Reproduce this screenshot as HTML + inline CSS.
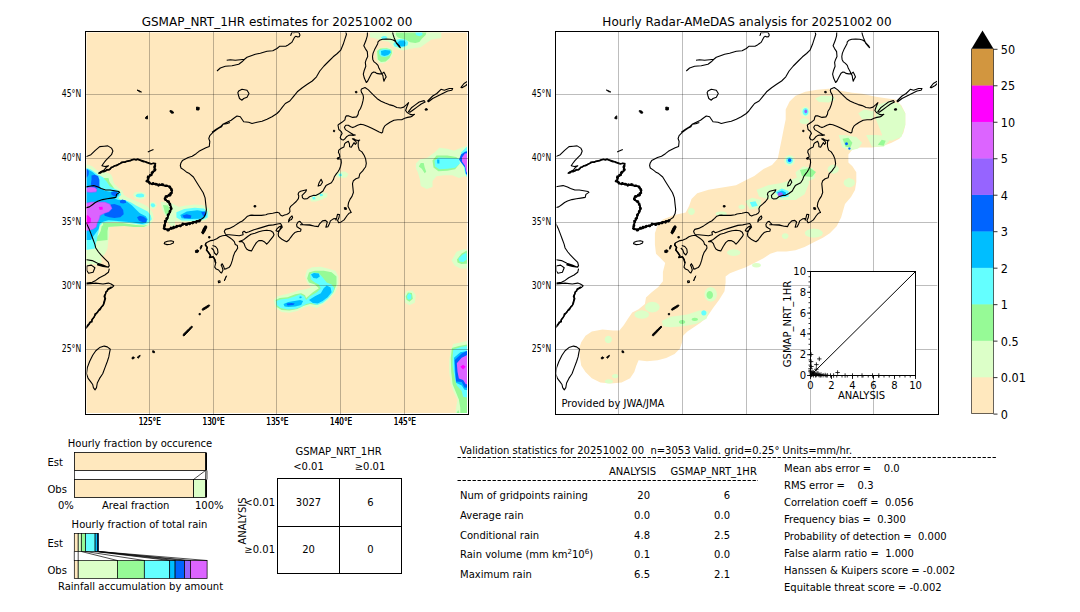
<!DOCTYPE html><html><head><meta charset="utf-8"><title>GSMaP validation</title><style>html,body{margin:0;padding:0;background:#fff;}svg{display:block;}text{font-family:'DejaVu Sans', 'Liberation Sans', sans-serif;}</style></head><body>
<svg width="1080" height="612" viewBox="0 0 1080 612">
<defs><filter id="bl" x="-5%" y="-5%" width="110%" height="110%"><feGaussianBlur stdDeviation="0.7"/></filter><clipPath id="cl"><rect x="86.5" y="32.5" width="380.5" height="380.5"/></clipPath><clipPath id="cr"><rect x="556.5" y="32.5" width="380.5" height="380.5"/></clipPath></defs>
<rect width="1080" height="612" fill="#fff"/>
<rect x="86.5" y="32.5" width="380.5" height="380.5" fill="#FFE8BE"/>
<g clip-path="url(#cl)"><g filter="url(#bl)"><path fill="#DCFFC8" d="M83.0,163.7 L88.9,165.0 L92.2,166.3 L95.5,169.0 L98.1,170.9 L100.7,172.2 L104.6,172.2 L108.5,172.9 L111.1,174.8 L112.5,177.5 L113.1,180.7 L114.4,183.9 L118.3,187.8 L122.3,190.8 L123.7,194.7 L127.2,197.2 L131.1,199.1 L136.0,201.1 L141.9,203.5 L146.8,206.0 L149.7,208.4 L152.6,212.4 L153.6,217.3 L152.6,221.2 L149.7,225.1 L145.8,227.1 L139.9,227.1 L132.1,226.1 L124.2,225.6 L114.4,226.1 L109.0,227.1 L109.5,232.9 L108.5,238.8 L107.5,248.6 L104.6,254.5 L99.7,258.4 L92.8,260.4 L83.0,261.4Z M133.0,194.7 L135.0,192.3 L139.9,191.8 L144.8,192.7 L146.3,195.7 L144.8,198.6 L139.9,199.4 L135.0,198.6Z M149.2,203.5 L151.7,201.8 L155.1,202.4 L157.1,205.5 L155.1,208.6 L151.7,208.9 L149.7,207.0Z M163.4,204.5 L166.4,202.5 L169.3,205.5 L173.2,209.4 L175.0,212.4 L175.0,227.1 L171.3,226.1 L168.3,223.1 L166.4,219.2 L164.9,213.3Z M160.7,201.8 L171.1,203.1 L179.0,207.1 L184.2,205.8 L194.7,204.4 L202.5,205.1 L209.0,208.4 L210.4,214.9 L206.4,220.1 L199.9,221.4 L184.2,222.1 L176.4,221.4 L171.1,218.8 L164.6,214.9 L162.0,208.4Z M370.0,29.7 L441.3,29.7 L441.3,38.1 L431.6,39.4 L425.1,44.0 L420.6,47.2 L415.4,47.9 L408.9,49.1 L403.7,50.4 L398.5,49.8 L393.3,47.2 L391.4,44.0 L388.1,41.4 L383.0,40.7 L378.4,39.4 L373.9,38.1 L370.0,37.5Z M376.5,50.4 L379.7,47.9 L386.2,47.2 L392.0,48.5 L393.3,52.4 L391.4,56.9 L388.1,60.8 L383.0,63.4 L378.4,62.8 L376.5,58.2Z M415.9,163.4 L419.8,159.5 L427.6,157.5 L434.5,152.6 L439.4,147.7 L447.3,148.7 L454.1,150.7 L461.0,147.7 L466.9,145.8 L472.7,144.8 L472.7,177.2 L464.9,176.2 L459.0,178.1 L452.2,175.2 L444.3,175.2 L436.5,176.2 L432.5,181.1 L432.5,187.0 L426.7,188.9 L420.8,186.0 L419.8,179.1 L417.8,172.3 L415.9,168.3Z M273.7,300.1 L277.6,296.2 L285.5,294.2 L293.3,292.3 L299.2,290.3 L306.1,289.3 L311.0,287.4 L307.1,282.5 L305.1,276.6 L307.1,269.7 L312.0,267.3 L320.8,266.8 L328.6,268.7 L335.5,270.7 L338.4,276.6 L338.4,284.4 L335.5,292.3 L330.6,298.1 L323.7,304.0 L316.9,307.9 L309.0,306.0 L303.1,307.9 L297.3,310.9 L289.4,312.8 L281.6,311.9 L275.7,307.9Z M453.3,343.9 L460.3,342.5 L467.2,341.1 L475.6,341.1 L475.6,418.9 L454.7,418.9 L456.1,407.8 L457.5,399.4 L453.3,391.1 L450.6,382.8 L449.2,371.7 L449.2,360.6 L450.6,350.8Z M451.6,260.6 L456.5,251.8 L463.3,249.3 L470.2,249.8 L470.2,268.4 L460.4,268.4 L454.5,265.5Z M404.0,295.9 L406.5,291.0 L412.4,290.5 L415.8,294.9 L414.8,302.7 L409.4,305.2 L405.0,302.7Z M310.0,199.0 L313.0,195.5 L318.0,193.5 L323.0,192.5 L327.5,193.5 L327.0,197.0 L322.0,199.5 L316.0,201.5 L311.0,201.5Z M336.0,174.5 L339.0,171.8 L345.0,171.5 L348.5,174.0 L346.5,177.5 L340.0,178.0 L336.5,177.0Z M84.0,229.0 L108.0,229.0 L109.0,237.0 L105.5,245.0 L102.0,251.0 L100.0,256.0 L102.0,262.0 L98.0,265.0 L92.0,264.0 L84.0,265.0Z"/><path fill="#96FA96" d="M83.0,178.0 L108.5,178.0 L109.5,182.0 L112.5,185.9 L114.4,188.8 L83.0,188.8Z M102.6,223.1 L114.4,223.1 L122.3,223.1 L129.1,224.1 L136.0,225.1 L143.8,225.6 L147.7,225.1 L143.8,227.1 L134.0,226.9 L124.2,226.1 L114.4,226.6 L107.5,227.1 L104.6,229.0Z M83.0,238.8 L94.8,238.8 L98.7,234.9 L100.7,231.0 L101.7,226.1 L105.6,224.1 L108.5,226.1 L107.5,231.0 L107.5,240.0 L83.0,242.7Z M163.0,205.0 L168.0,205.5 L170.0,210.0 L168.0,216.0 L165.0,213.0Z M395.9,29.7 L427.0,29.7 L425.7,34.9 L421.8,38.8 L419.3,42.0 L415.4,43.0 L410.2,42.3 L407.6,40.7 L402.4,38.8 L397.9,37.5 L395.9,34.9Z M377.1,51.1 L380.4,48.5 L386.9,48.2 L391.4,49.8 L392.0,53.0 L389.4,58.2 L385.6,61.5 L381.0,62.1 L377.8,59.5Z M418.8,166.4 L420.8,162.9 L423.7,162.9 L424.7,167.4 L426.2,171.8 L424.7,173.2 L421.8,168.8Z M432.5,160.5 L436.5,155.6 L447.3,155.6 L456.1,157.1 L459.0,159.5 L459.0,164.4 L455.1,169.3 L447.3,170.8 L438.4,171.3 L433.5,167.4Z M275.7,300.1 L279.6,298.1 L287.5,297.2 L295.3,294.2 L301.2,293.2 L305.1,295.2 L306.1,298.1 L312.9,292.3 L318.8,288.3 L314.9,284.4 L309.0,282.5 L307.1,278.5 L309.0,272.6 L314.9,270.7 L323.7,270.7 L331.6,272.2 L336.5,276.6 L336.5,284.4 L333.5,292.3 L328.6,297.2 L322.7,302.1 L316.9,305.0 L310.0,304.0 L303.1,306.0 L297.3,308.9 L289.4,310.4 L281.6,309.9 L276.7,307.0Z M451.9,348.1 L458.9,346.0 L467.2,344.6 L475.6,344.6 L475.6,418.9 L460.3,418.9 L460.3,407.8 L458.9,399.4 L455.4,391.1 L452.6,384.2 L451.2,371.7 L450.8,357.8Z M456.4,413.3 L458.2,409.9 L459.6,413.3Z M457.0,259.6 L461.4,253.7 L466.3,250.8 L470.2,251.3 L470.2,263.5 L461.4,264.0 L457.5,262.5Z M405.7,296.4 L407.9,292.5 L411.9,292.9 L412.8,298.8 L409.4,301.8 L406.5,299.8Z"/><path fill="#64FFFF" d="M83.0,167.0 L87.6,168.3 L90.9,169.6 L94.8,172.2 L98.1,174.8 L100.7,176.1 L103.3,177.5 L104.6,179.4 L106.6,181.4 L109.5,185.9 L114.4,188.8 L119.3,190.8 L121.3,194.7 L118.3,198.1 L120.3,199.6 L126.2,200.6 L131.1,202.5 L136.0,205.5 L141.9,208.4 L147.7,211.4 L150.7,215.3 L151.7,219.2 L148.7,223.1 L143.8,225.1 L136.0,224.1 L129.1,223.1 L122.3,222.2 L114.4,221.7 L106.6,222.2 L102.6,223.1 L99.7,226.1 L98.7,231.0 L97.7,234.9 L96.8,240.0 L94.8,248.6 L83.0,250.6Z M135.5,195.2 L137.5,193.7 L141.9,193.5 L144.3,194.7 L143.8,196.9 L139.9,197.5 L136.5,196.9Z M150.5,205.0 L151.7,203.3 L154.1,203.5 L155.4,205.5 L154.1,207.3 L152.0,207.3Z M176.4,212.3 L184.2,209.0 L194.7,207.7 L203.8,208.4 L207.7,211.6 L207.7,217.5 L202.5,220.1 L192.1,220.8 L181.6,220.4 L176.4,217.5Z M393.3,44.0 L395.9,40.1 L400.5,38.8 L405.6,39.4 L408.2,42.0 L407.6,45.3 L403.7,47.2 L398.5,47.5 L394.6,46.6Z M414.7,29.7 L421.8,29.7 L422.5,34.9 L419.3,36.2 L416.0,34.9Z M381.0,37.2 L383.6,35.9 L386.2,36.2 L387.5,38.1 L384.9,39.4 L381.7,38.8Z M379.1,50.4 L383.0,49.1 L389.4,49.5 L391.4,51.7 L389.4,55.6 L385.6,56.9 L381.0,56.6 L379.1,53.7Z M434.5,160.5 L438.4,157.5 L449.2,158.0 L459.0,158.5 L460.0,163.4 L455.1,167.8 L447.3,168.8 L439.4,169.3 L435.0,166.4Z M461.0,152.6 L466.9,146.8 L472.7,145.8 L472.7,178.1 L466.9,177.2 L464.9,172.3Z M276.2,301.1 L280.6,299.6 L288.4,298.6 L295.3,296.2 L300.2,294.2 L304.1,296.2 L306.1,300.1 L310.0,296.2 L316.9,292.3 L320.8,288.3 L318.8,284.4 L314.9,282.5 L311.0,279.5 L310.0,274.6 L312.9,272.6 L318.8,273.1 L322.7,277.5 L326.7,282.5 L331.6,284.4 L334.5,288.3 L332.5,293.2 L328.6,298.1 L322.7,303.0 L316.9,305.0 L311.0,303.0 L306.1,304.0 L301.2,307.0 L295.3,308.9 L287.5,309.4 L280.6,307.9 L276.7,305.0Z M453.3,349.4 L461.7,346.7 L475.6,345.3 L475.6,399.4 L463.1,396.7 L461.7,391.1 L456.8,385.6 L454.7,378.6 L452.6,366.1 L452.6,356.4Z M458.4,258.6 L462.4,254.7 L466.3,252.7 L466.8,259.6 L463.3,262.1 L459.4,261.6Z M407.0,295.9 L409.2,292.9 L411.4,294.9 L411.2,298.8 L408.9,299.8 L407.5,298.8Z M312.3,197.0 L315.0,196.8 L315.5,199.3 L312.8,199.6Z M319.8,194.0 L322.5,193.8 L322.8,196.0 L320.0,196.3Z M338.6,174.0 L341.5,173.6 L342.0,176.0 L339.0,176.3Z"/><path fill="#00BEFF" d="M83.0,167.7 L87.9,169.2 L92.8,172.2 L96.8,176.1 L97.7,183.9 L100.7,187.8 L104.6,190.8 L110.5,191.8 L114.4,190.8 L118.3,191.3 L119.3,194.7 L116.4,197.6 L114.4,198.6 L118.3,200.1 L124.2,200.1 L128.1,202.5 L132.1,205.5 L136.0,209.4 L139.9,213.3 L145.8,216.3 L147.7,219.2 L145.8,223.1 L141.9,224.1 L136.0,223.1 L132.1,222.2 L126.2,221.7 L120.3,221.2 L114.4,220.7 L108.5,220.2 L104.6,221.2 L101.7,222.2 L99.7,224.1 L98.7,229.0 L95.8,232.9 L92.8,236.9 L90.9,240.0 L83.0,240.0Z M180.3,214.9 L186.8,211.6 L197.3,210.3 L205.1,211.6 L206.4,216.2 L201.2,218.8 L189.4,219.1 L181.6,218.2Z M397.2,42.7 L399.8,40.4 L404.3,40.4 L405.6,42.7 L405.0,45.9 L401.8,46.6 L397.9,45.3Z M381.0,51.1 L384.9,50.1 L390.1,50.4 L390.7,52.4 L388.1,55.0 L384.3,56.0 L381.3,55.0Z M437.0,159.5 L439.4,159.5 L439.4,163.4 L437.3,163.6Z M311.0,274.6 L313.9,273.1 L318.8,273.6 L319.8,276.6 L316.9,278.5 L313.4,278.0Z M309.0,300.1 L314.9,296.2 L320.8,293.2 L323.7,288.3 L326.7,285.4 L330.6,287.4 L331.6,292.3 L327.6,297.2 L322.7,301.1 L317.8,303.5 L312.9,303.0Z M283.5,304.0 L288.4,302.1 L294.3,301.1 L300.2,300.1 L303.1,301.1 L301.2,305.0 L295.3,306.5 L288.4,307.0 L284.5,306.5Z M299.2,296.7 L301.2,296.2 L301.7,298.1 L299.7,298.3Z M454.0,357.8 L460.3,352.2 L475.6,349.4 L475.6,391.1 L464.4,389.7 L461.7,385.6 L456.1,382.8 L454.7,371.7Z"/><path fill="#0064FF" d="M84.0,168.8 L87.6,169.6 L88.9,171.6 L88.6,174.8 L87.0,177.5 L84.0,177.5Z M91.5,175.5 L94.8,174.8 L98.1,176.1 L99.4,180.1 L99.4,186.6 L96.8,188.5 L92.0,188.5 L90.9,184.0 L91.5,179.4Z M106.6,205.0 L114.4,204.0 L120.3,206.0 L123.2,209.9 L123.7,214.3 L120.3,217.3 L114.4,218.0 L109.5,217.3 L104.6,215.8 L103.6,211.4Z M119.8,201.1 L122.3,199.6 L125.7,200.4 L126.2,202.7 L123.2,203.5 L120.3,203.0Z M137.0,217.3 L139.9,215.8 L143.8,216.8 L146.8,219.2 L146.3,222.2 L142.8,222.2 L138.9,220.7Z M111.0,192.3 L114.4,191.3 L117.4,192.3 L117.4,195.7 L114.4,196.2 L111.5,194.7Z M182.3,215.6 L186.8,214.2 L191.4,215.6 L190.8,218.2 L184.2,218.2Z M201.2,212.3 L205.1,211.6 L206.4,214.9 L203.2,216.2Z M459.0,159.5 L461.0,154.6 L464.9,151.7 L472.7,149.7 L472.7,176.2 L465.9,174.2 L464.9,167.4 L461.0,162.5Z M286.5,303.5 L291.4,303.0 L294.8,303.5 L293.3,305.0 L287.5,305.5Z M454.7,359.9 L461.7,353.6 L467.2,350.8 L475.6,350.8 L475.6,388.3 L464.4,387.6 L461.7,382.1 L456.1,381.4 L455.4,371.7Z"/><path fill="#9664FF" d="M86.0,187.8 L90.9,186.4 L95.3,187.4 L97.3,189.8 L96.3,192.3 L90.9,192.7 L86.5,192.3Z M83.0,203.5 L90.9,201.8 L97.7,201.8 L105.1,201.8 L110.3,204.0 L112.3,208.4 L109.0,211.9 L104.1,213.8 L100.5,215.8 L99.5,219.2 L97.5,223.1 L96.6,227.1 L93.3,229.5 L88.9,230.5 L83.0,231.5Z"/><path fill="#DC64FF" d="M87.0,188.3 L90.9,187.4 L94.8,188.0 L96.6,189.8 L95.6,191.6 L90.9,192.0 L87.2,191.6Z M83.0,204.5 L90.9,202.5 L97.7,202.5 L104.6,202.5 L109.5,204.5 L111.5,208.4 L108.5,211.4 L103.6,213.3 L99.7,215.3 L98.7,219.2 L96.8,223.1 L95.8,227.1 L92.8,229.0 L88.9,230.0 L83.0,231.0Z M462.0,157.5 L464.9,153.6 L472.7,152.6 L472.7,174.2 L466.4,172.3 L464.9,165.4 L462.0,161.5Z M456.8,363.3 L461.7,357.8 L467.2,355.0 L475.6,355.0 L475.6,384.2 L465.8,384.2 L463.1,380.0 L458.9,378.6 L457.5,371.7Z"/><path fill="#FF00FF" d="M83.0,215.8 L87.9,215.3 L90.9,218.2 L90.9,222.2 L87.9,224.1 L83.0,224.6Z M98.7,207.0 L102.5,206.7 L102.8,209.4 L99.7,209.9Z M460.3,366.8 L463.1,364.7 L465.8,366.8 L463.1,369.6Z"/></g></g>
<g stroke="#000" stroke-opacity="0.26" stroke-width="1"><line x1="149.5" y1="32" x2="149.5" y2="414"/><line x1="213.5" y1="32" x2="213.5" y2="414"/><line x1="276.5" y1="32" x2="276.5" y2="414"/><line x1="340.5" y1="32" x2="340.5" y2="414"/><line x1="404.5" y1="32" x2="404.5" y2="414"/><line x1="86" y1="349.5" x2="468" y2="349.5"/><line x1="86" y1="285.5" x2="468" y2="285.5"/><line x1="86" y1="222.5" x2="468" y2="222.5"/><line x1="86" y1="158.5" x2="468" y2="158.5"/><line x1="86" y1="94.5" x2="468" y2="94.5"/></g>
<g clip-path="url(#cl)" fill="none" stroke="#000" stroke-width="1.1" stroke-linejoin="round"><path d="M290.2,35.5 L291.0,35.1 L291.4,33.4 L291.8,32.2 L293.1,32.8 L295.5,32.4 L298.0,32.2 L299.2,33.0 L300.0,35.1 L299.2,36.7 L297.6,36.9 L295.9,36.3 L294.7,37.1 L293.5,39.2 L292.7,40.8 L291.8,42.4 L289.8,43.7 L288.2,44.9 L286.1,46.1 L283.3,46.3 L279.5,46.3 L277.0,48.5 L272.8,50.7 L267.0,51.3 L260.3,53.2 L255.3,54.3 L251.2,55.7 L247.0,57.3 L244.5,59.3 L242.0,61.8 L238.7,64.3 L232.0,65.7 L225.3,66.3 L220.3,68.0 L217.0,71.0 M244.5,59.3 L240.3,59.8 L235.3,60.3 L230.3,59.8 L226.7,60.2 M238.7,91.0 L242.0,89.3 L247.0,90.2 L249.0,93.5 L247.0,97.3 L243.7,98.5 L242.0,100.2 L239.5,98.5 L238.7,96.0 L237.8,92.7Z M212.0,132.3 L216.2,129.3 L220.3,126.8 L222.8,124.3 L227.0,122.3 L231.2,120.2 L234.5,117.7 L237.0,116.0 L240.3,116.8 L242.0,119.3 L243.7,121.8 L248.7,122.3 L252.0,123.5 L257.0,122.3 L262.0,121.3 L267.0,119.3 L272.0,116.8 L277.0,113.5 L279.5,111.0 L282.0,107.7 L285.3,103.5 L289.8,101.0 L293.2,96.8 L297.3,91.8 L302.3,87.7 L307.3,84.3 L312.3,81.0 L316.5,76.8 L319.8,71.0 L324.0,66.0 L329.0,61.0 L333.2,56.8 L337.3,53.5 L340.7,50.2 L343.2,44.3 L344.8,39.3 L346.5,34.3 L345.7,31.8 M367.5,31.0 L367.3,35.9 L365.8,40.8 L363.8,45.7 L365.3,48.6 L367.3,51.6 L367.7,56.5 L366.3,59.4 L365.3,62.4 L365.8,66.3 L364.3,70.2 L363.3,74.1 L364.3,78.1 L366.3,82.5 L367.7,81.0 L369.7,77.1 L371.7,73.2 L373.6,72.0 L375.1,72.2 L376.6,73.4 L379.5,73.9 L382.0,73.6 L383.9,72.2 L384.9,74.1 L386.2,76.9 L384.9,79.0 L383.9,81.2 L383.4,79.0 L382.9,75.6 L381.5,73.2 L380.7,71.2 L379.0,68.3 L378.0,65.3 L376.1,63.4 L374.1,61.9 L372.8,59.4 L372.5,56.5 L373.1,53.1 L374.6,49.6 L376.1,46.7 L377.7,43.7 L378.0,41.8 L379.5,40.3 L382.5,39.3 L386.4,39.0 L390.3,39.3 L393.2,40.0 L395.2,41.3 L397.2,43.5 L399.6,46.2 L400.3,47.7 L399.0,46.5 L396.5,43.5 L395.5,41.0 L394.2,37.9 L393.2,34.9 L392.3,31.0 M361.5,88.9 L365.0,87.5 L368.4,89.9 L371.3,92.8 L374.3,95.8 L377.2,98.7 L381.1,101.2 L385.1,103.1 L389.0,104.6 L392.9,105.6 L396.8,107.5 L400.7,108.0 L403.7,107.1 L406.6,104.6 L408.6,102.6 L407.6,105.1 L406.6,107.5 L405.6,110.5 L407.1,112.5 L408.6,113.4 L410.1,114.4 L412.5,114.9 L414.5,114.4 L412.5,115.9 L410.5,116.9 L407.6,117.4 L404.7,118.3 L401.7,119.8 L397.8,119.8 L393.9,120.3 L390.0,122.3 L387.0,124.2 L384.6,126.2 L383.1,129.1 L382.6,132.1 L381.6,133.0 L379.2,132.1 L375.3,130.1 L371.3,128.1 L367.4,126.2 L363.5,124.7 L360.5,124.2 L357.6,125.2 L354.7,126.7 L352.7,127.6 L350.7,126.7 L348.3,125.2 L345.8,125.2 L344.4,127.2 L345.4,129.6 L347.8,131.1 L350.7,133.0 L353.2,134.5 L355.3,135.0 L353.1,135.4 L350.9,135.0 L348.7,135.4 L346.5,136.8 L345.0,138.7 L343.2,140.1 L341.3,139.4 L340.2,137.6 L341.0,135.4 L342.1,133.5 L341.3,131.7 L338.8,129.5 L338.0,125.2 L339.0,124.2 L341.9,122.3 L344.9,119.8 L345.4,117.4 L346.3,115.9 L348.8,115.9 L352.7,117.4 L356.6,116.9 L358.1,114.4 L358.6,111.5 L360.5,108.5 L362.0,104.6 L363.0,100.7 L363.5,97.7 L363.0,94.8 L361.5,92.4 L361.0,90.4 L361.5,88.9Z M408.5,111.7 L411.4,107.8 L415.3,104.9 L419.2,102.0 L424.1,100.6 L425.1,102.0 L421.2,104.0 L417.3,106.9 L413.4,109.8 L409.9,112.3Z M427.7,101.0 L432.7,96.0 L436.8,93.5 L441.0,89.3 L444.3,90.2 L449.3,88.5 L452.7,88.5 L451.8,90.2 L447.7,91.0 L442.7,93.5 L437.7,96.0 L432.7,98.5 L428.5,101.8Z M461.0,87.4 L464.0,83.5 L467.9,81.2 L468.8,82.6 L465.9,85.5 L462.0,87.8Z M348.3,141.2 L345.7,142.7 L344.6,143.8 L343.9,147.0 L341.3,148.2 L338.8,150.1 L338.4,152.3 L339.5,154.5 L339.9,157.0 L337.3,158.5 L341.0,159.3 L341.3,162.6 L340.6,166.2 L339.5,169.2 L337.8,172.0 L336.3,173.9 L334.3,176.8 L333.3,179.8 L331.4,182.7 L328.4,184.2 L326.0,185.6 L324.5,188.1 L323.0,191.0 L319.6,193.5 L315.7,195.5 L313.9,195.3 L309.5,196.8 L307.3,198.6 L304.3,199.0 L302.5,197.9 L302.1,195.3 L303.6,193.8 L305.8,191.6 L306.5,189.8 L303.6,190.5 L300.6,191.3 L298.8,192.4 L298.1,194.2 L298.8,196.0 L298.4,198.6 L296.2,201.5 L293.3,204.1 L290.7,206.3 L289.6,208.5 L290.0,211.5 L288.9,213.3 L286.7,214.4 L284.5,215.1 L282.3,215.9 L280.4,215.1 L279.3,212.9 L277.1,212.2 L272.7,213.3 L267.6,214.0 L265.9,214.7 L261.5,215.4 L257.1,215.4 L254.1,215.4 L251.9,215.1 L249.7,215.4 L247.5,216.2 L245.3,218.4 L242.4,221.0 L240.2,222.0 L234.3,225.9 L229.4,228.4 L225.5,229.4 L224.3,231.3 L225.0,233.3 L226.0,234.7 L229.4,234.7 L234.3,235.2 L239.2,235.7 L243.1,234.7 L242.6,232.3 L244.1,231.3 L246.1,232.8 L249.0,231.8 L253.9,229.8 L258.8,228.4 L263.7,226.9 L268.6,225.4 L273.5,224.9 L277.5,224.0 L280.5,223.5 L281.8,225.5 L280.5,228.0 L279.3,230.8 L278.6,232.3 L278.2,234.1 L278.6,236.3 L280.1,237.8 L282.3,239.6 L284.5,240.7 L286.7,241.8 L288.9,240.0 L290.4,237.8 L292.6,234.9 L294.8,232.6 L297.7,231.5 L300.6,231.2 L301.0,229.3 L299.2,228.2 L297.0,226.8 L296.6,224.6 L298.1,222.0 L299.9,221.3 L301.4,223.1 L302.9,224.6 L305.8,224.9 L309.5,225.3 L313.9,226.0 L316.8,226.4 L318.3,226.6 L319.6,223.8 L322.5,220.9 L325.5,220.4 L327.3,222.0 L326.5,224.8 L325.8,227.3 L327.9,226.8 L329.4,223.8 L330.4,220.9 L333.3,218.9 L335.5,218.5 L336.0,220.2 L336.6,218.0 L337.5,214.3 L339.5,214.5 L339.0,217.5 L337.6,220.5 L338.7,222.8 L341.2,221.9 L344.1,219.9 L346.1,217.0 L347.1,215.5 L349.0,213.3 L351.2,212.6 L349.5,209.2 L348.0,206.2 L348.5,202.8 L350.0,199.4 L352.0,196.4 L353.4,192.5 L352.9,187.6 L352.5,183.7 L353.4,180.7 L355.9,178.8 L358.8,177.8 L359.8,173.9 L362.7,170.9 L364.7,168.0 L365.6,167.0 L366.3,163.3 L365.6,158.9 L364.1,155.2 L361.9,151.9 L359.3,150.1 L358.2,146.4 L358.2,141.6 L359.7,140.1 L358.2,140.5 L356.0,140.1 L353.8,138.7 L352.4,138.9 L353.8,139.8 L356.0,141.6 L356.4,143.1 L355.3,144.3 L354.0,142.7 L352.7,144.9 L351.3,147.3 L349.6,146.8 L349.4,143.8 L348.3,141.2Z M321.1,179.3 L322.5,182.2 L320.6,185.2 L318.1,186.1 L319.1,182.7 L321.1,179.3Z M292.0,215.9 L292.6,217.4 L291.5,219.6 L289.6,220.3 L288.5,221.8 L288.9,219.6 L290.4,217.4 L292.0,215.9Z M281.5,225.7 L282.3,227.1 L280.1,229.7 L277.9,231.5 L276.0,230.8 L277.1,228.6 L279.3,226.8 L281.5,225.7Z M239.2,241.6 L243.1,240.1 L246.1,237.7 L248.0,236.2 L251.0,234.3 L254.9,233.3 L258.8,231.8 L262.7,230.8 L266.7,230.3 L270.6,230.8 L273.0,232.3 L274.0,234.7 L273.0,236.7 L270.6,239.6 L268.6,242.1 L266.7,244.1 L264.7,242.1 L261.8,240.6 L258.8,240.6 L256.4,242.6 L253.9,246.5 L251.5,250.9 L249.0,250.4 L246.6,249.0 L245.1,246.5 L244.1,243.6 L242.2,241.6 L239.2,241.6Z M226.0,235.2 L222.5,235.7 L219.6,236.7 L216.7,238.7 L213.7,240.1 L210.8,240.6 L207.8,242.1 L205.9,243.1 L205.4,245.0 L207.3,247.5 L206.5,250.0 L208.5,252.5 L210.5,255.5 L209.5,257.5 L212.0,257.0 L213.2,256.8 L214.7,259.3 L215.7,263.2 L214.7,267.1 L216.2,269.1 L218.6,270.0 L220.6,272.5 L221.6,273.0 L223.0,270.0 L222.1,267.1 L221.1,265.1 L222.1,263.7 L223.5,266.1 L224.5,269.1 L226.5,268.6 L228.9,267.6 L230.4,265.6 L231.4,263.2 L232.4,260.2 L233.3,256.3 L234.8,252.4 L236.3,250.4 L237.7,248.0 L237.3,245.5 L235.3,244.5 L234.3,241.6 L232.4,239.6 L229.9,237.7 L227.5,236.2 L226.0,235.2Z M212.5,245.5 L215.5,246.5 L217.5,249.0 L218.0,252.5 L216.5,255.0 L214.5,253.0 L213.5,250.0 L211.5,248.0 M230.0,122.4 L226.5,123.8 L223.0,124.3 L221.6,126.8 L218.6,128.2 L215.7,130.2 L212.7,132.6 L209.8,135.6 L208.8,138.5 L209.8,141.5 L209.3,146.4 L205.9,147.8 L202.9,149.3 L199.0,151.3 L196.1,153.7 L192.2,156.2 L188.2,157.6 L185.3,159.1 L182.4,160.6 L180.9,163.0 L180.3,165.5 L181.0,168.0 L183.8,169.9 L186.3,171.9 L189.4,173.6 L193.4,177.0 L196.6,182.2 L199.9,187.5 L203.2,192.7 L205.1,197.9 L205.8,204.4 L206.4,209.7 L205.8,213.6 L203.8,217.5 L199.9,220.1 L196.0,221.4 L190.8,222.7 L184.2,224.1 L179.0,226.0 L173.8,228.0 L168.5,229.3 L164.6,229.3 L164.0,226.7 L165.3,222.7 L167.2,218.8 L168.5,214.9 L170.5,211.0 L171.1,207.1 L169.2,203.1 L166.6,200.5 L164.6,199.2 L165.9,196.6 L170.5,195.3 L171.8,191.4 L170.5,187.5 L167.9,186.1 L163.3,185.5 L158.1,184.8 L154.2,184.2 L150.2,183.5 L147.6,181.6 L148.9,177.0 L151.5,174.4 L154.2,171.1 L154.8,166.5 L155.6,163.4 L151.2,163.5 L146.8,162.1 L142.4,160.6 L137.9,159.1 L132.1,159.9 L126.2,161.3 L120.3,163.5 L114.4,165.7 L110.0,168.7 L105.6,170.9 L101.9,171.6 L99.0,173.1 L101.2,171.6 L104.1,170.1 L106.3,167.2 L108.5,165.7 L104.9,166.5 L101.9,165.7 L103.4,163.5 L105.6,160.6 L108.5,157.6 L111.5,154.7 L112.9,151.0 L111.5,148.1 L107.8,145.9 L104.1,146.2 L99.7,146.6 L95.3,150.3 L90.9,154.7 L85.7,156.9 L84.0,157.5 M147.8,152.0 L150.5,150.8 L153.5,149.5 M84.0,187.1 L85.0,187.1 L89.4,186.3 L93.8,185.6 L98.2,187.1 L101.2,188.5 L105.6,190.0 L110.0,190.0 L114.4,190.7 L118.8,191.5 L119.6,192.4 L116.6,194.4 L115.9,197.4 L111.5,198.1 L107.1,198.8 L102.6,199.6 L98.2,201.0 L95.3,202.5 L92.4,204.7 L89.4,206.9 L86.5,207.6 L85.0,208.4 L84.0,209.0 M84.0,222.0 L86.3,223.1 L88.9,228.4 L90.9,233.6 L92.8,238.8 L94.8,244.1 L95.8,248.0 L98.5,252.0 L101.2,255.2 L104.8,258.8 L108.4,262.4 L109.3,266.0 L107.5,266.9 L103.0,265.1 L97.6,263.3 L92.2,260.6 L86.8,259.7 L84.0,259.7 M97.6,264.3 L103.0,265.8 L108.4,267.3 L103.0,266.5 L97.6,264.9Z M86.8,266.0 L91.3,265.1 L94.9,267.8 L93.1,272.3 L88.6,273.2 L86.8,270.5Z M109.3,268.7 L108.4,272.3 L104.8,275.0 L99.4,277.7 L95.8,280.4 L92.2,282.2 L86.8,283.1 L84.0,283.1 M84.0,284.0 L86.8,284.0 L95.8,283.1 L103.0,284.0 L108.4,283.1 L111.1,284.0 L113.8,285.8 L112.0,287.6 L108.4,289.4 L105.7,292.1 L104.8,298.3 L103.0,305.5 L99.4,309.1 L95.8,314.5 L92.2,319.9 L88.6,325.3 L85.0,328.9 L84.0,330.0 M104.2,346.1 L107.3,346.9 L110.3,349.2 L109.6,352.3 L108.8,356.9 L107.3,361.5 L105.0,367.6 L102.7,373.8 L99.6,378.4 L97.3,383.0 L96.5,387.6 L95.0,389.9 L93.4,387.6 L92.7,384.5 L90.4,381.4 L88.1,378.4 L86.5,373.8 L87.3,367.6 L89.6,361.5 L92.7,355.3 L95.8,350.7 L99.6,347.6 L104.2,346.1Z M218.2,281.0 L219.8,280.7 L220.2,282.2 L218.6,282.8Z M300.0,224.8 L305.0,224.8 L309.8,224.8 L314.7,226.3 L316.8,226.4 M164.2,243.8 L164.8,242.3 L167.5,241.3 L171.0,240.8 L173.6,241.5 L173.3,243.0 L170.5,244.2 L167.0,244.6Z"/><path stroke-width="1.5" d="M199.9,220.1 L196.0,221.4 L190.8,222.7 L184.2,224.1 L179.0,226.0 L173.8,228.0 L168.5,229.3 L164.6,229.3 L164.0,226.7 L165.3,222.7 L167.2,218.8 L168.5,214.9 L170.5,211.0 L171.1,207.1 L169.2,203.1 L166.6,200.5 L164.6,199.2 L165.9,196.6 L170.5,195.3 L171.8,191.4 L170.5,187.5 L167.9,186.1 L163.3,185.5 L158.1,184.8 L154.2,184.2 L150.2,183.5 L147.6,181.6 L148.9,177.0 L151.5,174.4 L154.2,171.1 L154.8,166.5 L155.6,163.4 M111.7,287.0 L109.9,288.0 L107.9,288.9 L107.3,291.0 L105.9,292.1 L105.7,293.7 L104.6,295.1 L104.2,296.6 L105.4,298.5 L104.9,300.2 L104.4,302.0 L103.9,303.8 L103.0,305.5 L101.7,306.6 L100.9,308.2 L100.1,309.6 L98.6,310.5 L97.8,311.9 L96.6,313.1 L95.1,314.0 L94.6,315.7 L94.0,317.2 L92.9,318.4 L91.9,319.7 L92.0,321.7 L89.8,322.2 L89.1,323.7 L88.1,324.8 L87.0,326.1 L86.3,327.8 L85.1,329.0 L84.0,330.0 M205.5,225.8 L206.6,227.0 L205.0,230.5 L203.0,233.6 L202.0,232.5 L203.5,229.0 L205.5,225.8 M155.6,164.0 L153.4,163.3 L151.0,164.1 L149.5,163.6 L148.1,163.0 L146.6,162.5 L145.3,161.8 L143.7,161.7 L142.2,161.3 L140.7,160.6 L139.2,160.1 L137.9,159.3 L136.1,160.0 L134.0,159.1 L132.1,159.7 L130.7,160.7 L129.2,160.9 L127.7,161.2 L126.3,161.5 L124.9,162.3 L123.1,161.9 L121.5,162.3 L120.3,163.5 L118.8,164.1 L117.6,165.1 L116.1,165.7 L114.5,165.9 L113.1,167.0 L111.2,167.3 L110.2,169.1 L108.8,170.0 L106.8,169.6 L105.6,170.9 L103.8,171.7 L101.9,171.5 L100.8,172.9 L99.0,173.1 L101.2,171.6 M205.9,243.1 L205.4,245.0 L207.3,247.5 L206.5,250.0 L208.5,252.5 L210.5,255.5 L209.5,257.5 L212.0,257.0 L213.2,256.8 L214.7,259.3 L215.7,263.2"/><path stroke-width="2.6" stroke-dasharray="1.2 2.8" stroke-linecap="round" d="M200.0,220.5 L198.8,221.3 L197.2,220.7 L196.2,222.3 L194.7,221.6 L193.5,222.3 L192.3,223.3 L190.8,222.7 L189.7,224.0 L188.2,223.4 L187.0,224.5 L185.7,224.7 L184.3,224.3 L182.7,223.9 L181.9,225.8 L180.5,226.1 L178.9,225.7 L177.3,225.6 L176.3,226.8 L175.2,227.7 L173.6,227.0 L172.7,229.3 L171.0,227.9 L169.9,229.4 L168.5,230.1 L167.2,230.1 L165.9,229.7 L165.3,229.1 L163.6,228.2 L164.2,226.8 L164.7,225.5 L164.6,223.9 L165.4,222.7 L165.1,221.0 L165.7,219.7 L166.6,218.6 L168.0,217.6 L167.9,216.1 L168.1,214.7 L169.3,213.7 L169.7,212.3 L170.1,210.9 L171.3,209.8 L171.3,208.5 L170.6,207.3 L170.6,205.7 L169.9,204.4 L169.8,202.5 L168.3,201.4 L166.3,200.9 L165.5,199.7 L164.5,197.5 L165.9,196.4 L167.6,196.7 L168.8,195.0 L170.5,195.3 L170.0,193.7 L171.7,192.8 L172.4,191.2 L171.5,190.0 L171.7,188.5 L170.3,187.9 L169.4,186.4 L167.9,185.9 L166.4,185.7 L164.8,185.8 L163.4,184.8 L162.1,184.4 L160.7,185.2 L159.4,184.6 L158.0,185.8 L156.9,184.2 L155.5,184.1 L154.4,183.1 L153.0,183.3 L151.5,184.2 L150.1,183.7 L149.1,182.3 L146.6,181.3 L148.0,180.0 L147.8,178.3 L148.3,176.4 L149.5,175.0 L152.0,174.8 L151.8,172.8 L152.9,171.8 L154.0,171.1 L155.2,169.7 L153.7,167.9 L154.7,166.5 L155.3,165.0 L155.6,163.4"/><path fill="#000" stroke-width="0.9" d="M147.5,115.8 L145.8,117.0 L145.5,118.5 L147.5,119.0Z M195.4,250.5 L197.5,249.8 L198.9,250.8 L197.8,252.6 L195.5,252.5Z M425.0,109.0 L427.0,108.6 L427.5,110.0 L425.3,110.2Z M344.3,207.5 L346.3,207.8 L346.4,209.5 L344.5,209.3Z M170.0,110.5 L172.5,111.0 L173.7,113.0 L171.5,113.3 L170.0,111.5Z M254.0,205.6 L255.8,205.6 L255.8,207.0 L254.0,207.0Z M137.2,357.3 L138.5,356.2 L140.2,355.3 L139.5,357.0 L138.2,358.2Z M205.5,225.8 L206.6,227.0 L205.0,230.5 L203.0,233.6 L202.0,232.5 L203.5,229.0 L205.5,225.8Z M199.0,313.5 L200.3,313.4 L200.3,314.8 L199.0,314.8Z M355.3,91.5 L356.8,91.3 L357.0,92.8 L355.5,92.8Z M208.6,236.6 L210.0,236.6 L210.0,238.0 L208.6,238.0Z M337.3,158.0 L338.5,157.5 L338.8,159.0 L337.5,159.2Z M196.5,107.0 L199.3,107.5 L199.0,110.0 L196.5,110.0 L196.5,107.0Z M202.0,309.8 L203.0,310.3 L206.0,308.6 L209.0,306.6 L209.8,305.3 L208.6,305.0 L205.5,306.8 L202.6,308.6Z M226.5,275.8 L225.5,278.5 L224.3,281.0 L225.2,278.3 L226.5,275.8Z M183.0,335.5 L184.0,336.0 L186.8,333.2 L189.8,330.0 L192.5,327.0 L191.8,326.0 L189.0,328.5 L186.0,331.5 L183.5,334.0Z M333.5,130.2 L334.8,130.4 L334.5,131.8 L333.4,131.6Z M132.0,357.5 L133.5,356.8 L134.5,357.8 L133.3,359.0 L132.0,358.8Z M201.5,245.0 L202.2,245.8 L201.3,248.0 L200.5,249.3 L200.2,247.5Z M137.0,90.0 L139.0,90.6 L141.5,92.0 L139.5,91.8 L137.0,90.0Z M152.6,350.8 L154.2,351.0 L154.6,352.7 L152.8,352.6Z"/></g>
<rect x="85.5" y="31.5" width="383" height="383" fill="none" stroke="#000" stroke-width="1"/>
<g font-size="9.7" fill="#000"><text x="81.2" y="352.3" text-anchor="end" textLength="19.4" lengthAdjust="spacingAndGlyphs">25°N</text><text x="81.2" y="288.6" text-anchor="end" textLength="19.4" lengthAdjust="spacingAndGlyphs">30°N</text><text x="81.2" y="224.8" text-anchor="end" textLength="19.4" lengthAdjust="spacingAndGlyphs">35°N</text><text x="81.2" y="161.1" text-anchor="end" textLength="19.4" lengthAdjust="spacingAndGlyphs">40°N</text><text x="81.2" y="97.3" text-anchor="end" textLength="19.4" lengthAdjust="spacingAndGlyphs">45°N</text><text x="149.8" y="425" text-anchor="middle" textLength="22.1" lengthAdjust="spacingAndGlyphs">125°E</text><text x="213.6" y="425" text-anchor="middle" textLength="22.1" lengthAdjust="spacingAndGlyphs">130°E</text><text x="277.4" y="425" text-anchor="middle" textLength="22.1" lengthAdjust="spacingAndGlyphs">135°E</text><text x="341.1" y="425" text-anchor="middle" textLength="22.1" lengthAdjust="spacingAndGlyphs">140°E</text><text x="404.9" y="425" text-anchor="middle" textLength="22.1" lengthAdjust="spacingAndGlyphs">145°E</text></g>
<text x="277" y="26" font-size="12" text-anchor="middle">GSMAP_NRT_1HR estimates for 20251002 00</text>
<g clip-path="url(#cr)"><g filter="url(#bl)"><path fill="#FFE8BE" d="M789.6,101.6 L795.5,95.7 L805.3,91.8 L817.1,89.8 L828.8,88.8 L840.6,90.8 L852.4,92.7 L862.2,93.7 L875.9,96.7 L887.6,98.6 L895.5,99.6 L901.4,105.5 L905.3,113.3 L905.3,125.1 L903.3,132.9 L899.4,138.8 L891.6,142.7 L883.7,145.7 L872.0,147.6 L860.2,147.6 L852.4,149.6 L848.4,154.5 L848.4,162.4 L852.4,166.3 L856.3,172.2 L856.3,182.0 L855.0,190.0 L851.0,197.0 L845.0,204.0 L841.2,217.2 L836.7,226.3 L829.8,233.2 L822.9,237.7 L813.8,242.3 L804.6,246.9 L795.5,250.3 L786.4,251.5 L777.2,251.5 L770.3,253.8 L763.5,258.3 L754.3,262.9 L745.2,267.5 L738.3,270.0 L729.9,273.2 L725.6,276.4 L725.6,282.7 L724.5,291.2 L719.2,299.7 L712.9,308.2 L706.5,317.8 L700.1,323.1 L693.8,327.3 L687.4,331.6 L683.1,335.8 L682.1,342.2 L680.0,348.6 L674.6,353.9 L666.2,358.1 L657.7,360.2 L647.0,361.3 L638.6,360.2 L636.4,365.5 L634.3,371.9 L630.1,378.3 L621.6,382.5 L611.0,383.6 L600.3,382.5 L591.8,378.3 L585.5,371.9 L581.2,365.5 L580.2,359.2 L579.1,348.6 L581.2,342.2 L585.5,335.8 L591.8,331.6 L602.5,329.4 L613.1,330.5 L619.4,330.5 L623.7,325.2 L627.9,318.8 L632.2,312.5 L638.6,309.3 L644.9,304.0 L646.0,297.6 L651.4,292.5 L658.3,287.0 L662.9,281.2 L662.9,272.0 L665.2,262.9 L660.6,258.3 L656.0,253.8 L654.9,244.6 L654.9,233.2 L657.2,226.3 L662.9,219.5 L674.3,214.9 L685.7,212.6 L689.2,205.7 L691.5,198.9 L697.2,193.2 L708.6,189.7 L722.3,187.4 L736.0,185.2 L745.2,180.6 L754.3,176.0 L763.5,169.1 L772.0,165.0 L777.8,158.4 L779.8,148.6 L781.8,138.8 L783.7,129.0 L785.7,119.2 L785.7,109.4Z"/><path fill="#DCFFC8" d="M815.1,98.6 L821.0,95.7 L832.7,96.1 L835.7,99.6 L828.8,102.5 L819.0,102.0Z M875.9,105.5 L887.6,101.6 L899.4,103.5 L905.3,113.3 L905.3,125.1 L901.4,136.9 L891.6,140.8 L883.7,138.8 L879.8,129.0 L875.9,119.2Z M858.2,113.3 L864.1,109.4 L873.9,111.4 L872.9,118.2 L862.2,119.2Z M838.6,134.9 L844.5,134.9 L856.3,136.9 L862.2,142.7 L858.2,148.6 L850.4,150.6 L842.5,147.6Z M866.1,134.9 L875.9,134.9 L887.6,135.9 L889.6,140.8 L883.7,146.7 L872.0,146.7Z M809.2,121.2 L808.5,122.6 L806.8,123.7 L804.3,124.1 L801.8,123.7 L800.1,122.6 L799.4,121.2 L800.1,119.7 L801.8,118.6 L804.3,118.2 L806.8,118.6 L808.5,119.7Z M810.0,111.8 L809.4,114.4 L807.6,116.3 L805.2,117.0 L802.9,116.3 L801.1,114.4 L800.5,111.8 L801.1,109.1 L802.9,107.2 L805.2,106.5 L807.6,107.2 L809.4,109.1Z M795.0,160.5 L794.3,163.2 L792.2,165.3 L789.5,166.0 L786.8,165.3 L784.7,163.2 L784.0,160.5 L784.7,157.8 L786.8,155.7 L789.5,155.0 L792.2,155.7 L794.3,157.8Z M795.5,172.2 L803.3,166.3 L813.1,168.2 L815.1,178.0 L807.3,182.0 L797.5,180.0Z M844.5,182.0 L848.4,178.0 L854.3,180.0 L853.3,185.9 L846.5,185.9Z M756.6,189.7 L768.1,185.2 L781.8,182.9 L795.5,178.3 L804.6,173.7 L809.2,182.9 L804.6,194.3 L795.5,200.0 L781.8,200.0 L768.1,198.9 L758.9,196.6Z M745.2,201.2 L752.0,197.7 L761.2,200.0 L760.0,208.0 L749.8,209.2Z M839.0,169.1 L838.2,171.4 L836.1,173.1 L833.2,173.7 L830.4,173.1 L828.3,171.4 L827.5,169.1 L828.3,166.9 L830.4,165.2 L833.2,164.6 L836.1,165.2 L838.2,166.9Z M855.0,182.9 L854.2,185.1 L852.1,186.8 L849.2,187.4 L846.4,186.8 L844.3,185.1 L843.5,182.9 L844.3,180.6 L846.4,178.9 L849.2,178.3 L852.1,178.9 L854.2,180.6Z M823.0,233.1 L821.8,235.4 L818.4,237.1 L813.8,237.7 L809.2,237.1 L805.8,235.4 L804.6,233.1 L805.8,230.9 L809.2,229.2 L813.8,228.6 L818.4,229.2 L821.8,230.9Z M788.6,236.1 L788.1,237.5 L786.9,238.5 L785.2,238.9 L783.5,238.5 L782.3,237.5 L781.8,236.1 L782.3,234.6 L783.5,233.6 L785.2,233.2 L786.9,233.6 L788.1,234.6Z M740.6,252.6 L739.7,254.3 L737.2,255.5 L733.8,256.0 L730.3,255.5 L727.8,254.3 L726.9,252.6 L727.8,250.9 L730.3,249.7 L733.8,249.2 L737.2,249.7 L739.7,250.9Z M761.0,265.2 L760.4,266.4 L758.8,267.2 L756.5,267.5 L754.2,267.2 L752.6,266.4 L752.0,265.2 L752.6,264.1 L754.2,263.3 L756.5,263.0 L758.8,263.3 L760.4,264.1Z M694.9,211.4 L694.4,213.2 L693.2,214.4 L691.5,214.9 L689.7,214.4 L688.5,213.2 L688.0,211.4 L688.5,209.7 L689.7,208.5 L691.5,208.0 L693.2,208.5 L694.4,209.7Z M745.2,206.9 L744.7,208.0 L743.5,208.9 L741.8,209.2 L740.0,208.9 L738.8,208.0 L738.3,206.9 L738.8,205.7 L740.0,204.9 L741.8,204.6 L743.5,204.9 L744.7,205.7Z M726.9,213.8 L726.1,214.9 L724.1,215.7 L721.2,216.0 L718.4,215.7 L716.3,214.9 L715.5,213.8 L716.3,212.6 L718.4,211.8 L721.2,211.5 L724.1,211.8 L726.1,212.6Z M717.1,294.4 L716.2,298.1 L713.9,300.8 L710.8,301.8 L707.6,300.8 L705.3,298.1 L704.4,294.4 L705.3,290.7 L707.6,288.0 L710.8,287.0 L713.9,288.0 L716.2,290.7Z M659.8,307.1 L658.8,309.8 L656.1,311.8 L652.3,312.5 L648.6,311.8 L645.9,309.8 L644.9,307.1 L645.9,304.5 L648.6,302.5 L652.3,301.8 L656.1,302.5 L658.8,304.5Z M649.2,314.6 L648.2,316.7 L645.5,318.2 L641.8,318.8 L638.0,318.2 L635.3,316.7 L634.3,314.6 L635.3,312.4 L638.0,310.9 L641.8,310.3 L645.5,310.9 L648.2,312.4Z M661.9,321.0 L670.4,316.7 L687.4,314.6 L700.1,310.3 L708.6,311.4 L706.5,318.8 L695.9,324.1 L683.1,326.3 L670.4,327.3 L663.0,326.3Z M612.0,339.5 L611.5,341.3 L610.1,342.7 L608.3,343.2 L606.4,342.7 L605.1,341.3 L604.6,339.5 L605.1,337.7 L606.4,336.3 L608.3,335.8 L610.1,336.3 L611.5,337.6Z M618.4,376.1 L618.0,377.2 L616.8,378.0 L615.2,378.3 L613.6,378.0 L612.4,377.2 L612.0,376.1 L612.4,375.1 L613.6,374.3 L615.2,374.0 L616.8,374.3 L618.0,375.1Z M613.1,381.5 L612.5,382.5 L611.0,383.3 L608.9,383.6 L606.7,383.3 L605.2,382.5 L604.6,381.5 L605.2,380.4 L606.7,379.6 L608.9,379.3 L611.0,379.6 L612.5,380.4Z"/><path fill="#96FA96" d="M842.5,138.8 L848.4,137.8 L852.4,142.7 L850.4,147.6 L845.5,146.7Z M877.8,144.7 L881.8,139.8 L885.7,140.8 L883.7,145.7Z M800.0,170.0 L810.0,168.0 L816.0,172.0 L812.0,177.0 L802.0,176.0Z M713.0,295.0 L712.6,297.0 L711.4,298.5 L709.8,299.0 L708.1,298.5 L706.9,297.0 L706.5,295.0 L706.9,293.0 L708.1,291.5 L709.8,291.0 L711.4,291.5 L712.6,293.0Z M685.3,322.0 L684.9,323.1 L683.7,323.8 L682.1,324.1 L680.5,323.8 L679.3,323.1 L678.9,322.0 L679.3,320.9 L680.5,320.2 L682.1,319.9 L683.7,320.2 L684.9,320.9Z M698.0,319.4 L697.6,320.2 L696.4,320.8 L694.8,321.0 L693.2,320.8 L692.0,320.2 L691.6,319.4 L692.0,318.6 L693.2,318.0 L694.8,317.8 L696.4,318.0 L697.6,318.6Z"/><path fill="#64FFFF" d="M808.5,111.8 L808.1,113.6 L807.0,115.0 L805.5,115.5 L804.0,115.0 L802.9,113.6 L802.5,111.8 L802.9,109.9 L804.0,108.5 L805.5,108.0 L807.0,108.5 L808.1,109.9Z M793.0,160.5 L792.5,162.2 L791.2,163.5 L789.5,164.0 L787.8,163.5 L786.5,162.2 L786.0,160.5 L786.5,158.8 L787.8,157.5 L789.5,157.0 L791.2,157.5 L792.5,158.8Z M774.9,192.0 L781.8,188.6 L788.6,190.9 L788.6,196.6 L780.6,197.7Z M749.8,202.3 L755.5,201.2 L757.8,205.7 L752.0,206.9Z M706.5,313.0 L706.1,314.3 L705.2,315.2 L703.9,315.6 L702.5,315.2 L701.6,314.3 L701.2,313.0 L701.6,311.6 L702.5,310.7 L703.9,310.3 L705.2,310.7 L706.1,311.6Z"/><path fill="#00BEFF" d="M777.0,192.5 L782.0,190.5 L786.0,192.5 L785.5,196.0 L780.0,196.5Z"/><path fill="#0064FF" d="M791.4,160.3 L791.2,161.2 L790.5,161.8 L789.6,162.0 L788.7,161.8 L788.0,161.2 L787.8,160.3 L788.0,159.5 L788.7,158.8 L789.6,158.6 L790.5,158.8 L791.2,159.5Z M848.0,143.7 L847.8,144.4 L847.2,145.0 L846.5,145.2 L845.8,145.0 L845.2,144.4 L845.0,143.7 L845.2,142.9 L845.8,142.4 L846.5,142.2 L847.2,142.4 L847.8,142.9Z M850.6,148.6 L850.4,149.2 L850.0,149.6 L849.4,149.8 L848.8,149.6 L848.4,149.2 L848.2,148.6 L848.4,148.0 L848.8,147.6 L849.4,147.4 L850.0,147.6 L850.4,148.0Z"/><path fill="#9664FF" d="M807.3,111.3 L807.1,112.3 L806.5,113.0 L805.8,113.3 L805.0,113.0 L804.5,112.3 L804.3,111.3 L804.5,110.4 L805.0,109.7 L805.8,109.4 L806.5,109.7 L807.1,110.4Z M783.0,194.4 L782.6,195.5 L781.6,196.3 L780.3,196.6 L778.9,196.3 L778.0,195.5 L777.6,194.4 L778.0,193.3 L778.9,192.5 L780.3,192.2 L781.6,192.5 L782.6,193.3Z"/></g></g>
<g stroke="#000" stroke-opacity="0.26" stroke-width="1"><line x1="618.5" y1="32" x2="618.5" y2="414"/><line x1="682.5" y1="32" x2="682.5" y2="414"/><line x1="746.5" y1="32" x2="746.5" y2="414"/><line x1="810.5" y1="32" x2="810.5" y2="414"/><line x1="873.5" y1="32" x2="873.5" y2="414"/><line x1="555.3" y1="349.5" x2="937.3" y2="349.5"/><line x1="555.3" y1="285.5" x2="937.3" y2="285.5"/><line x1="555.3" y1="222.5" x2="937.3" y2="222.5"/><line x1="555.3" y1="158.5" x2="937.3" y2="158.5"/><line x1="555.3" y1="94.5" x2="937.3" y2="94.5"/></g>
<g clip-path="url(#cr)"><g fill="none" stroke="#000" stroke-width="1.1" stroke-linejoin="round" transform="translate(469.3,0)"><path d="M290.2,35.5 L291.0,35.1 L291.4,33.4 L291.8,32.2 L293.1,32.8 L295.5,32.4 L298.0,32.2 L299.2,33.0 L300.0,35.1 L299.2,36.7 L297.6,36.9 L295.9,36.3 L294.7,37.1 L293.5,39.2 L292.7,40.8 L291.8,42.4 L289.8,43.7 L288.2,44.9 L286.1,46.1 L283.3,46.3 L279.5,46.3 L277.0,48.5 L272.8,50.7 L267.0,51.3 L260.3,53.2 L255.3,54.3 L251.2,55.7 L247.0,57.3 L244.5,59.3 L242.0,61.8 L238.7,64.3 L232.0,65.7 L225.3,66.3 L220.3,68.0 L217.0,71.0 M244.5,59.3 L240.3,59.8 L235.3,60.3 L230.3,59.8 L226.7,60.2 M238.7,91.0 L242.0,89.3 L247.0,90.2 L249.0,93.5 L247.0,97.3 L243.7,98.5 L242.0,100.2 L239.5,98.5 L238.7,96.0 L237.8,92.7Z M212.0,132.3 L216.2,129.3 L220.3,126.8 L222.8,124.3 L227.0,122.3 L231.2,120.2 L234.5,117.7 L237.0,116.0 L240.3,116.8 L242.0,119.3 L243.7,121.8 L248.7,122.3 L252.0,123.5 L257.0,122.3 L262.0,121.3 L267.0,119.3 L272.0,116.8 L277.0,113.5 L279.5,111.0 L282.0,107.7 L285.3,103.5 L289.8,101.0 L293.2,96.8 L297.3,91.8 L302.3,87.7 L307.3,84.3 L312.3,81.0 L316.5,76.8 L319.8,71.0 L324.0,66.0 L329.0,61.0 L333.2,56.8 L337.3,53.5 L340.7,50.2 L343.2,44.3 L344.8,39.3 L346.5,34.3 L345.7,31.8 M367.5,31.0 L367.3,35.9 L365.8,40.8 L363.8,45.7 L365.3,48.6 L367.3,51.6 L367.7,56.5 L366.3,59.4 L365.3,62.4 L365.8,66.3 L364.3,70.2 L363.3,74.1 L364.3,78.1 L366.3,82.5 L367.7,81.0 L369.7,77.1 L371.7,73.2 L373.6,72.0 L375.1,72.2 L376.6,73.4 L379.5,73.9 L382.0,73.6 L383.9,72.2 L384.9,74.1 L386.2,76.9 L384.9,79.0 L383.9,81.2 L383.4,79.0 L382.9,75.6 L381.5,73.2 L380.7,71.2 L379.0,68.3 L378.0,65.3 L376.1,63.4 L374.1,61.9 L372.8,59.4 L372.5,56.5 L373.1,53.1 L374.6,49.6 L376.1,46.7 L377.7,43.7 L378.0,41.8 L379.5,40.3 L382.5,39.3 L386.4,39.0 L390.3,39.3 L393.2,40.0 L395.2,41.3 L397.2,43.5 L399.6,46.2 L400.3,47.7 L399.0,46.5 L396.5,43.5 L395.5,41.0 L394.2,37.9 L393.2,34.9 L392.3,31.0 M361.5,88.9 L365.0,87.5 L368.4,89.9 L371.3,92.8 L374.3,95.8 L377.2,98.7 L381.1,101.2 L385.1,103.1 L389.0,104.6 L392.9,105.6 L396.8,107.5 L400.7,108.0 L403.7,107.1 L406.6,104.6 L408.6,102.6 L407.6,105.1 L406.6,107.5 L405.6,110.5 L407.1,112.5 L408.6,113.4 L410.1,114.4 L412.5,114.9 L414.5,114.4 L412.5,115.9 L410.5,116.9 L407.6,117.4 L404.7,118.3 L401.7,119.8 L397.8,119.8 L393.9,120.3 L390.0,122.3 L387.0,124.2 L384.6,126.2 L383.1,129.1 L382.6,132.1 L381.6,133.0 L379.2,132.1 L375.3,130.1 L371.3,128.1 L367.4,126.2 L363.5,124.7 L360.5,124.2 L357.6,125.2 L354.7,126.7 L352.7,127.6 L350.7,126.7 L348.3,125.2 L345.8,125.2 L344.4,127.2 L345.4,129.6 L347.8,131.1 L350.7,133.0 L353.2,134.5 L355.3,135.0 L353.1,135.4 L350.9,135.0 L348.7,135.4 L346.5,136.8 L345.0,138.7 L343.2,140.1 L341.3,139.4 L340.2,137.6 L341.0,135.4 L342.1,133.5 L341.3,131.7 L338.8,129.5 L338.0,125.2 L339.0,124.2 L341.9,122.3 L344.9,119.8 L345.4,117.4 L346.3,115.9 L348.8,115.9 L352.7,117.4 L356.6,116.9 L358.1,114.4 L358.6,111.5 L360.5,108.5 L362.0,104.6 L363.0,100.7 L363.5,97.7 L363.0,94.8 L361.5,92.4 L361.0,90.4 L361.5,88.9Z M408.5,111.7 L411.4,107.8 L415.3,104.9 L419.2,102.0 L424.1,100.6 L425.1,102.0 L421.2,104.0 L417.3,106.9 L413.4,109.8 L409.9,112.3Z M427.7,101.0 L432.7,96.0 L436.8,93.5 L441.0,89.3 L444.3,90.2 L449.3,88.5 L452.7,88.5 L451.8,90.2 L447.7,91.0 L442.7,93.5 L437.7,96.0 L432.7,98.5 L428.5,101.8Z M461.0,87.4 L464.0,83.5 L467.9,81.2 L468.8,82.6 L465.9,85.5 L462.0,87.8Z M348.3,141.2 L345.7,142.7 L344.6,143.8 L343.9,147.0 L341.3,148.2 L338.8,150.1 L338.4,152.3 L339.5,154.5 L339.9,157.0 L337.3,158.5 L341.0,159.3 L341.3,162.6 L340.6,166.2 L339.5,169.2 L337.8,172.0 L336.3,173.9 L334.3,176.8 L333.3,179.8 L331.4,182.7 L328.4,184.2 L326.0,185.6 L324.5,188.1 L323.0,191.0 L319.6,193.5 L315.7,195.5 L313.9,195.3 L309.5,196.8 L307.3,198.6 L304.3,199.0 L302.5,197.9 L302.1,195.3 L303.6,193.8 L305.8,191.6 L306.5,189.8 L303.6,190.5 L300.6,191.3 L298.8,192.4 L298.1,194.2 L298.8,196.0 L298.4,198.6 L296.2,201.5 L293.3,204.1 L290.7,206.3 L289.6,208.5 L290.0,211.5 L288.9,213.3 L286.7,214.4 L284.5,215.1 L282.3,215.9 L280.4,215.1 L279.3,212.9 L277.1,212.2 L272.7,213.3 L267.6,214.0 L265.9,214.7 L261.5,215.4 L257.1,215.4 L254.1,215.4 L251.9,215.1 L249.7,215.4 L247.5,216.2 L245.3,218.4 L242.4,221.0 L240.2,222.0 L234.3,225.9 L229.4,228.4 L225.5,229.4 L224.3,231.3 L225.0,233.3 L226.0,234.7 L229.4,234.7 L234.3,235.2 L239.2,235.7 L243.1,234.7 L242.6,232.3 L244.1,231.3 L246.1,232.8 L249.0,231.8 L253.9,229.8 L258.8,228.4 L263.7,226.9 L268.6,225.4 L273.5,224.9 L277.5,224.0 L280.5,223.5 L281.8,225.5 L280.5,228.0 L279.3,230.8 L278.6,232.3 L278.2,234.1 L278.6,236.3 L280.1,237.8 L282.3,239.6 L284.5,240.7 L286.7,241.8 L288.9,240.0 L290.4,237.8 L292.6,234.9 L294.8,232.6 L297.7,231.5 L300.6,231.2 L301.0,229.3 L299.2,228.2 L297.0,226.8 L296.6,224.6 L298.1,222.0 L299.9,221.3 L301.4,223.1 L302.9,224.6 L305.8,224.9 L309.5,225.3 L313.9,226.0 L316.8,226.4 L318.3,226.6 L319.6,223.8 L322.5,220.9 L325.5,220.4 L327.3,222.0 L326.5,224.8 L325.8,227.3 L327.9,226.8 L329.4,223.8 L330.4,220.9 L333.3,218.9 L335.5,218.5 L336.0,220.2 L336.6,218.0 L337.5,214.3 L339.5,214.5 L339.0,217.5 L337.6,220.5 L338.7,222.8 L341.2,221.9 L344.1,219.9 L346.1,217.0 L347.1,215.5 L349.0,213.3 L351.2,212.6 L349.5,209.2 L348.0,206.2 L348.5,202.8 L350.0,199.4 L352.0,196.4 L353.4,192.5 L352.9,187.6 L352.5,183.7 L353.4,180.7 L355.9,178.8 L358.8,177.8 L359.8,173.9 L362.7,170.9 L364.7,168.0 L365.6,167.0 L366.3,163.3 L365.6,158.9 L364.1,155.2 L361.9,151.9 L359.3,150.1 L358.2,146.4 L358.2,141.6 L359.7,140.1 L358.2,140.5 L356.0,140.1 L353.8,138.7 L352.4,138.9 L353.8,139.8 L356.0,141.6 L356.4,143.1 L355.3,144.3 L354.0,142.7 L352.7,144.9 L351.3,147.3 L349.6,146.8 L349.4,143.8 L348.3,141.2Z M321.1,179.3 L322.5,182.2 L320.6,185.2 L318.1,186.1 L319.1,182.7 L321.1,179.3Z M292.0,215.9 L292.6,217.4 L291.5,219.6 L289.6,220.3 L288.5,221.8 L288.9,219.6 L290.4,217.4 L292.0,215.9Z M281.5,225.7 L282.3,227.1 L280.1,229.7 L277.9,231.5 L276.0,230.8 L277.1,228.6 L279.3,226.8 L281.5,225.7Z M239.2,241.6 L243.1,240.1 L246.1,237.7 L248.0,236.2 L251.0,234.3 L254.9,233.3 L258.8,231.8 L262.7,230.8 L266.7,230.3 L270.6,230.8 L273.0,232.3 L274.0,234.7 L273.0,236.7 L270.6,239.6 L268.6,242.1 L266.7,244.1 L264.7,242.1 L261.8,240.6 L258.8,240.6 L256.4,242.6 L253.9,246.5 L251.5,250.9 L249.0,250.4 L246.6,249.0 L245.1,246.5 L244.1,243.6 L242.2,241.6 L239.2,241.6Z M226.0,235.2 L222.5,235.7 L219.6,236.7 L216.7,238.7 L213.7,240.1 L210.8,240.6 L207.8,242.1 L205.9,243.1 L205.4,245.0 L207.3,247.5 L206.5,250.0 L208.5,252.5 L210.5,255.5 L209.5,257.5 L212.0,257.0 L213.2,256.8 L214.7,259.3 L215.7,263.2 L214.7,267.1 L216.2,269.1 L218.6,270.0 L220.6,272.5 L221.6,273.0 L223.0,270.0 L222.1,267.1 L221.1,265.1 L222.1,263.7 L223.5,266.1 L224.5,269.1 L226.5,268.6 L228.9,267.6 L230.4,265.6 L231.4,263.2 L232.4,260.2 L233.3,256.3 L234.8,252.4 L236.3,250.4 L237.7,248.0 L237.3,245.5 L235.3,244.5 L234.3,241.6 L232.4,239.6 L229.9,237.7 L227.5,236.2 L226.0,235.2Z M212.5,245.5 L215.5,246.5 L217.5,249.0 L218.0,252.5 L216.5,255.0 L214.5,253.0 L213.5,250.0 L211.5,248.0 M230.0,122.4 L226.5,123.8 L223.0,124.3 L221.6,126.8 L218.6,128.2 L215.7,130.2 L212.7,132.6 L209.8,135.6 L208.8,138.5 L209.8,141.5 L209.3,146.4 L205.9,147.8 L202.9,149.3 L199.0,151.3 L196.1,153.7 L192.2,156.2 L188.2,157.6 L185.3,159.1 L182.4,160.6 L180.9,163.0 L180.3,165.5 L181.0,168.0 L183.8,169.9 L186.3,171.9 L189.4,173.6 L193.4,177.0 L196.6,182.2 L199.9,187.5 L203.2,192.7 L205.1,197.9 L205.8,204.4 L206.4,209.7 L205.8,213.6 L203.8,217.5 L199.9,220.1 L196.0,221.4 L190.8,222.7 L184.2,224.1 L179.0,226.0 L173.8,228.0 L168.5,229.3 L164.6,229.3 L164.0,226.7 L165.3,222.7 L167.2,218.8 L168.5,214.9 L170.5,211.0 L171.1,207.1 L169.2,203.1 L166.6,200.5 L164.6,199.2 L165.9,196.6 L170.5,195.3 L171.8,191.4 L170.5,187.5 L167.9,186.1 L163.3,185.5 L158.1,184.8 L154.2,184.2 L150.2,183.5 L147.6,181.6 L148.9,177.0 L151.5,174.4 L154.2,171.1 L154.8,166.5 L155.6,163.4 L151.2,163.5 L146.8,162.1 L142.4,160.6 L137.9,159.1 L132.1,159.9 L126.2,161.3 L120.3,163.5 L114.4,165.7 L110.0,168.7 L105.6,170.9 L101.9,171.6 L99.0,173.1 L101.2,171.6 L104.1,170.1 L106.3,167.2 L108.5,165.7 L104.9,166.5 L101.9,165.7 L103.4,163.5 L105.6,160.6 L108.5,157.6 L111.5,154.7 L112.9,151.0 L111.5,148.1 L107.8,145.9 L104.1,146.2 L99.7,146.6 L95.3,150.3 L90.9,154.7 L85.7,156.9 L84.0,157.5 M147.8,152.0 L150.5,150.8 L153.5,149.5 M84.0,187.1 L85.0,187.1 L89.4,186.3 L93.8,185.6 L98.2,187.1 L101.2,188.5 L105.6,190.0 L110.0,190.0 L114.4,190.7 L118.8,191.5 L119.6,192.4 L116.6,194.4 L115.9,197.4 L111.5,198.1 L107.1,198.8 L102.6,199.6 L98.2,201.0 L95.3,202.5 L92.4,204.7 L89.4,206.9 L86.5,207.6 L85.0,208.4 L84.0,209.0 M84.0,222.0 L86.3,223.1 L88.9,228.4 L90.9,233.6 L92.8,238.8 L94.8,244.1 L95.8,248.0 L98.5,252.0 L101.2,255.2 L104.8,258.8 L108.4,262.4 L109.3,266.0 L107.5,266.9 L103.0,265.1 L97.6,263.3 L92.2,260.6 L86.8,259.7 L84.0,259.7 M97.6,264.3 L103.0,265.8 L108.4,267.3 L103.0,266.5 L97.6,264.9Z M86.8,266.0 L91.3,265.1 L94.9,267.8 L93.1,272.3 L88.6,273.2 L86.8,270.5Z M109.3,268.7 L108.4,272.3 L104.8,275.0 L99.4,277.7 L95.8,280.4 L92.2,282.2 L86.8,283.1 L84.0,283.1 M84.0,284.0 L86.8,284.0 L95.8,283.1 L103.0,284.0 L108.4,283.1 L111.1,284.0 L113.8,285.8 L112.0,287.6 L108.4,289.4 L105.7,292.1 L104.8,298.3 L103.0,305.5 L99.4,309.1 L95.8,314.5 L92.2,319.9 L88.6,325.3 L85.0,328.9 L84.0,330.0 M104.2,346.1 L107.3,346.9 L110.3,349.2 L109.6,352.3 L108.8,356.9 L107.3,361.5 L105.0,367.6 L102.7,373.8 L99.6,378.4 L97.3,383.0 L96.5,387.6 L95.0,389.9 L93.4,387.6 L92.7,384.5 L90.4,381.4 L88.1,378.4 L86.5,373.8 L87.3,367.6 L89.6,361.5 L92.7,355.3 L95.8,350.7 L99.6,347.6 L104.2,346.1Z M218.2,281.0 L219.8,280.7 L220.2,282.2 L218.6,282.8Z M300.0,224.8 L305.0,224.8 L309.8,224.8 L314.7,226.3 L316.8,226.4 M164.2,243.8 L164.8,242.3 L167.5,241.3 L171.0,240.8 L173.6,241.5 L173.3,243.0 L170.5,244.2 L167.0,244.6Z"/><path stroke-width="1.5" d="M199.9,220.1 L196.0,221.4 L190.8,222.7 L184.2,224.1 L179.0,226.0 L173.8,228.0 L168.5,229.3 L164.6,229.3 L164.0,226.7 L165.3,222.7 L167.2,218.8 L168.5,214.9 L170.5,211.0 L171.1,207.1 L169.2,203.1 L166.6,200.5 L164.6,199.2 L165.9,196.6 L170.5,195.3 L171.8,191.4 L170.5,187.5 L167.9,186.1 L163.3,185.5 L158.1,184.8 L154.2,184.2 L150.2,183.5 L147.6,181.6 L148.9,177.0 L151.5,174.4 L154.2,171.1 L154.8,166.5 L155.6,163.4 M111.7,287.0 L109.9,288.0 L107.9,288.9 L107.3,291.0 L105.9,292.1 L105.7,293.7 L104.6,295.1 L104.2,296.6 L105.4,298.5 L104.9,300.2 L104.4,302.0 L103.9,303.8 L103.0,305.5 L101.7,306.6 L100.9,308.2 L100.1,309.6 L98.6,310.5 L97.8,311.9 L96.6,313.1 L95.1,314.0 L94.6,315.7 L94.0,317.2 L92.9,318.4 L91.9,319.7 L92.0,321.7 L89.8,322.2 L89.1,323.7 L88.1,324.8 L87.0,326.1 L86.3,327.8 L85.1,329.0 L84.0,330.0 M205.5,225.8 L206.6,227.0 L205.0,230.5 L203.0,233.6 L202.0,232.5 L203.5,229.0 L205.5,225.8 M155.6,164.0 L153.4,163.3 L151.0,164.1 L149.5,163.6 L148.1,163.0 L146.6,162.5 L145.3,161.8 L143.7,161.7 L142.2,161.3 L140.7,160.6 L139.2,160.1 L137.9,159.3 L136.1,160.0 L134.0,159.1 L132.1,159.7 L130.7,160.7 L129.2,160.9 L127.7,161.2 L126.3,161.5 L124.9,162.3 L123.1,161.9 L121.5,162.3 L120.3,163.5 L118.8,164.1 L117.6,165.1 L116.1,165.7 L114.5,165.9 L113.1,167.0 L111.2,167.3 L110.2,169.1 L108.8,170.0 L106.8,169.6 L105.6,170.9 L103.8,171.7 L101.9,171.5 L100.8,172.9 L99.0,173.1 L101.2,171.6 M205.9,243.1 L205.4,245.0 L207.3,247.5 L206.5,250.0 L208.5,252.5 L210.5,255.5 L209.5,257.5 L212.0,257.0 L213.2,256.8 L214.7,259.3 L215.7,263.2"/><path stroke-width="2.6" stroke-dasharray="1.2 2.8" stroke-linecap="round" d="M200.0,220.5 L198.8,221.3 L197.2,220.7 L196.2,222.3 L194.7,221.6 L193.5,222.3 L192.3,223.3 L190.8,222.7 L189.7,224.0 L188.2,223.4 L187.0,224.5 L185.7,224.7 L184.3,224.3 L182.7,223.9 L181.9,225.8 L180.5,226.1 L178.9,225.7 L177.3,225.6 L176.3,226.8 L175.2,227.7 L173.6,227.0 L172.7,229.3 L171.0,227.9 L169.9,229.4 L168.5,230.1 L167.2,230.1 L165.9,229.7 L165.3,229.1 L163.6,228.2 L164.2,226.8 L164.7,225.5 L164.6,223.9 L165.4,222.7 L165.1,221.0 L165.7,219.7 L166.6,218.6 L168.0,217.6 L167.9,216.1 L168.1,214.7 L169.3,213.7 L169.7,212.3 L170.1,210.9 L171.3,209.8 L171.3,208.5 L170.6,207.3 L170.6,205.7 L169.9,204.4 L169.8,202.5 L168.3,201.4 L166.3,200.9 L165.5,199.7 L164.5,197.5 L165.9,196.4 L167.6,196.7 L168.8,195.0 L170.5,195.3 L170.0,193.7 L171.7,192.8 L172.4,191.2 L171.5,190.0 L171.7,188.5 L170.3,187.9 L169.4,186.4 L167.9,185.9 L166.4,185.7 L164.8,185.8 L163.4,184.8 L162.1,184.4 L160.7,185.2 L159.4,184.6 L158.0,185.8 L156.9,184.2 L155.5,184.1 L154.4,183.1 L153.0,183.3 L151.5,184.2 L150.1,183.7 L149.1,182.3 L146.6,181.3 L148.0,180.0 L147.8,178.3 L148.3,176.4 L149.5,175.0 L152.0,174.8 L151.8,172.8 L152.9,171.8 L154.0,171.1 L155.2,169.7 L153.7,167.9 L154.7,166.5 L155.3,165.0 L155.6,163.4"/><path fill="#000" stroke-width="0.9" d="M147.5,115.8 L145.8,117.0 L145.5,118.5 L147.5,119.0Z M195.4,250.5 L197.5,249.8 L198.9,250.8 L197.8,252.6 L195.5,252.5Z M425.0,109.0 L427.0,108.6 L427.5,110.0 L425.3,110.2Z M344.3,207.5 L346.3,207.8 L346.4,209.5 L344.5,209.3Z M170.0,110.5 L172.5,111.0 L173.7,113.0 L171.5,113.3 L170.0,111.5Z M254.0,205.6 L255.8,205.6 L255.8,207.0 L254.0,207.0Z M137.2,357.3 L138.5,356.2 L140.2,355.3 L139.5,357.0 L138.2,358.2Z M205.5,225.8 L206.6,227.0 L205.0,230.5 L203.0,233.6 L202.0,232.5 L203.5,229.0 L205.5,225.8Z M199.0,313.5 L200.3,313.4 L200.3,314.8 L199.0,314.8Z M355.3,91.5 L356.8,91.3 L357.0,92.8 L355.5,92.8Z M208.6,236.6 L210.0,236.6 L210.0,238.0 L208.6,238.0Z M337.3,158.0 L338.5,157.5 L338.8,159.0 L337.5,159.2Z M196.5,107.0 L199.3,107.5 L199.0,110.0 L196.5,110.0 L196.5,107.0Z M202.0,309.8 L203.0,310.3 L206.0,308.6 L209.0,306.6 L209.8,305.3 L208.6,305.0 L205.5,306.8 L202.6,308.6Z M226.5,275.8 L225.5,278.5 L224.3,281.0 L225.2,278.3 L226.5,275.8Z M183.0,335.5 L184.0,336.0 L186.8,333.2 L189.8,330.0 L192.5,327.0 L191.8,326.0 L189.0,328.5 L186.0,331.5 L183.5,334.0Z M333.5,130.2 L334.8,130.4 L334.5,131.8 L333.4,131.6Z M132.0,357.5 L133.5,356.8 L134.5,357.8 L133.3,359.0 L132.0,358.8Z M201.5,245.0 L202.2,245.8 L201.3,248.0 L200.5,249.3 L200.2,247.5Z M137.0,90.0 L139.0,90.6 L141.5,92.0 L139.5,91.8 L137.0,90.0Z M152.6,350.8 L154.2,351.0 L154.6,352.7 L152.8,352.6Z"/></g></g>
<text x="561.5" y="407" font-size="10">Provided by JWA/JMA</text>
<rect x="555.5" y="31.5" width="383" height="383" fill="none" stroke="#000" stroke-width="1"/>
<g font-size="9.7" fill="#000"><text x="551.2" y="352.3" text-anchor="end" textLength="19.4" lengthAdjust="spacingAndGlyphs">25°N</text><text x="551.2" y="288.6" text-anchor="end" textLength="19.4" lengthAdjust="spacingAndGlyphs">30°N</text><text x="551.2" y="224.8" text-anchor="end" textLength="19.4" lengthAdjust="spacingAndGlyphs">35°N</text><text x="551.2" y="161.1" text-anchor="end" textLength="19.4" lengthAdjust="spacingAndGlyphs">40°N</text><text x="551.2" y="97.3" text-anchor="end" textLength="19.4" lengthAdjust="spacingAndGlyphs">45°N</text><text x="149.8" y="425" text-anchor="middle" textLength="22.1" lengthAdjust="spacingAndGlyphs">125°E</text><text x="213.6" y="425" text-anchor="middle" textLength="22.1" lengthAdjust="spacingAndGlyphs">130°E</text><text x="277.4" y="425" text-anchor="middle" textLength="22.1" lengthAdjust="spacingAndGlyphs">135°E</text><text x="341.1" y="425" text-anchor="middle" textLength="22.1" lengthAdjust="spacingAndGlyphs">140°E</text><text x="404.9" y="425" text-anchor="middle" textLength="22.1" lengthAdjust="spacingAndGlyphs">145°E</text></g>
<text x="747" y="26" font-size="12" text-anchor="middle">Hourly Radar-AMeDAS analysis for 20251002 00</text>
<rect x="810.5" y="271.5" width="105.0" height="104.0" fill="#fff" stroke="#000" stroke-width="1"/><line x1="810.5" y1="375.5" x2="915.5" y2="271.5" stroke="#000" stroke-width="1"/><g stroke="#000" stroke-width="0.8"><line x1="810.5" y1="375.5" x2="810.5" y2="379.0"/><line x1="810.5" y1="375.5" x2="807.0" y2="375.5"/><line x1="831.5" y1="375.5" x2="831.5" y2="379.0"/><line x1="810.5" y1="354.7" x2="807.0" y2="354.7"/><line x1="852.5" y1="375.5" x2="852.5" y2="379.0"/><line x1="810.5" y1="333.9" x2="807.0" y2="333.9"/><line x1="873.5" y1="375.5" x2="873.5" y2="379.0"/><line x1="810.5" y1="313.1" x2="807.0" y2="313.1"/><line x1="894.5" y1="375.5" x2="894.5" y2="379.0"/><line x1="810.5" y1="292.3" x2="807.0" y2="292.3"/><line x1="915.5" y1="375.5" x2="915.5" y2="379.0"/><line x1="810.5" y1="271.5" x2="807.0" y2="271.5"/><line x1="810.5" y1="375.5" x2="810.5" y2="377.5"/><line x1="810.5" y1="375.5" x2="808.5" y2="375.5"/><line x1="815.75" y1="375.5" x2="815.75" y2="377.5"/><line x1="810.5" y1="370.3" x2="808.5" y2="370.3"/><line x1="821.0" y1="375.5" x2="821.0" y2="377.5"/><line x1="810.5" y1="365.1" x2="808.5" y2="365.1"/><line x1="826.25" y1="375.5" x2="826.25" y2="377.5"/><line x1="810.5" y1="359.9" x2="808.5" y2="359.9"/><line x1="831.5" y1="375.5" x2="831.5" y2="377.5"/><line x1="810.5" y1="354.7" x2="808.5" y2="354.7"/><line x1="836.75" y1="375.5" x2="836.75" y2="377.5"/><line x1="810.5" y1="349.5" x2="808.5" y2="349.5"/><line x1="842.0" y1="375.5" x2="842.0" y2="377.5"/><line x1="810.5" y1="344.3" x2="808.5" y2="344.3"/><line x1="847.25" y1="375.5" x2="847.25" y2="377.5"/><line x1="810.5" y1="339.1" x2="808.5" y2="339.1"/><line x1="852.5" y1="375.5" x2="852.5" y2="377.5"/><line x1="810.5" y1="333.9" x2="808.5" y2="333.9"/><line x1="857.75" y1="375.5" x2="857.75" y2="377.5"/><line x1="810.5" y1="328.7" x2="808.5" y2="328.7"/><line x1="863.0" y1="375.5" x2="863.0" y2="377.5"/><line x1="810.5" y1="323.5" x2="808.5" y2="323.5"/><line x1="868.25" y1="375.5" x2="868.25" y2="377.5"/><line x1="810.5" y1="318.3" x2="808.5" y2="318.3"/><line x1="873.5" y1="375.5" x2="873.5" y2="377.5"/><line x1="810.5" y1="313.1" x2="808.5" y2="313.1"/><line x1="878.75" y1="375.5" x2="878.75" y2="377.5"/><line x1="810.5" y1="307.9" x2="808.5" y2="307.9"/><line x1="884.0" y1="375.5" x2="884.0" y2="377.5"/><line x1="810.5" y1="302.7" x2="808.5" y2="302.7"/><line x1="889.25" y1="375.5" x2="889.25" y2="377.5"/><line x1="810.5" y1="297.5" x2="808.5" y2="297.5"/><line x1="894.5" y1="375.5" x2="894.5" y2="377.5"/><line x1="810.5" y1="292.3" x2="808.5" y2="292.3"/><line x1="899.75" y1="375.5" x2="899.75" y2="377.5"/><line x1="810.5" y1="287.1" x2="808.5" y2="287.1"/><line x1="905.0" y1="375.5" x2="905.0" y2="377.5"/><line x1="810.5" y1="281.9" x2="808.5" y2="281.9"/><line x1="910.25" y1="375.5" x2="910.25" y2="377.5"/><line x1="810.5" y1="276.7" x2="808.5" y2="276.7"/><line x1="915.5" y1="375.5" x2="915.5" y2="377.5"/><line x1="810.5" y1="271.5" x2="808.5" y2="271.5"/></g><g font-size="10" style="font-family:'DejaVu Sans Condensed','DejaVu Sans',sans-serif"><text x="810.5" y="389.0" text-anchor="middle">0</text><text x="806.0" y="379.0" text-anchor="end">0</text><text x="831.5" y="389.0" text-anchor="middle">2</text><text x="806.0" y="358.2" text-anchor="end">2</text><text x="852.5" y="389.0" text-anchor="middle">4</text><text x="806.0" y="337.4" text-anchor="end">4</text><text x="873.5" y="389.0" text-anchor="middle">6</text><text x="806.0" y="316.6" text-anchor="end">6</text><text x="894.5" y="389.0" text-anchor="middle">8</text><text x="806.0" y="295.8" text-anchor="end">8</text><text x="915.5" y="389.0" text-anchor="middle">10</text><text x="806.0" y="275.0" text-anchor="end">10</text></g><text x="861.5" y="399" font-size="10" text-anchor="middle">ANALYSIS</text><text transform="translate(790.5,324) rotate(-90)" font-size="10" text-anchor="middle">GSMAP_NRT_1HR</text><path d="M808.9,354.5h4.4M811.1,352.3v4.4M808.9,361.6h4.4M811.1,359.4v4.4M817.1,358.9h4.4M819.3,356.7v4.4M814.2,364.6h4.4M816.4,362.4v4.4M835.4,372.5h4.4M837.6,370.3v4.4M809.2,366.5h4.4M811.4,364.3v4.4M814.1,369.3h4.4M816.3,367.1v4.4M809.3,375.0h4.4M811.5,372.8v4.4M810.4,374.3h4.4M812.6,372.1v4.4M811.4,375.3h4.4M813.6,373.1v4.4M812.5,373.6h4.4M814.7,371.4v4.4M813.5,375.0h4.4M815.8,372.8v4.4M814.6,374.5h4.4M816.8,372.3v4.4M815.6,373.2h4.4M817.9,371.0v4.4M816.7,375.0h4.4M818.9,372.8v4.4M817.8,375.3h4.4M820.0,373.1v4.4M818.8,374.5h4.4M821.0,372.3v4.4M820.9,375.2h4.4M823.1,373.0v4.4M823.0,375.0h4.4M825.2,372.8v4.4M825.1,375.3h4.4M827.3,373.1v4.4M828.2,375.5h4.4M830.5,373.3v4.4M831.4,375.5h4.4M833.6,373.3v4.4M842.9,375.5h4.4M845.1,373.3v4.4M850.3,375.5h4.4M852.5,373.3v4.4M859.8,375.5h4.4M862.0,373.3v4.4M870.2,375.5h4.4M872.5,373.3v4.4M876.5,375.5h4.4M878.8,373.3v4.4M808.3,371.3h4.4M810.5,369.1v4.4M808.3,368.7h4.4M810.5,366.5v4.4M808.8,372.9h4.4M811.0,370.7v4.4M809.9,371.9h4.4M812.1,369.7v4.4M811.4,372.4h4.4M813.6,370.2v4.4" stroke="#000" stroke-width="0.8" fill="none"/>
<rect x="971.5" y="377.02" width="22.0" height="36.78" fill="#FFE8BE"/><rect x="971.5" y="340.54" width="22.0" height="36.78" fill="#DCFFC8"/><rect x="971.5" y="304.06" width="22.0" height="36.78" fill="#96FA96"/><rect x="971.5" y="267.58" width="22.0" height="36.78" fill="#64FFFF"/><rect x="971.5" y="231.10" width="22.0" height="36.78" fill="#00BEFF"/><rect x="971.5" y="194.62" width="22.0" height="36.78" fill="#0064FF"/><rect x="971.5" y="158.14" width="22.0" height="36.78" fill="#9664FF"/><rect x="971.5" y="121.66" width="22.0" height="36.78" fill="#DC64FF"/><rect x="971.5" y="85.18" width="22.0" height="36.78" fill="#FF00FF"/><rect x="971.5" y="48.70" width="22.0" height="36.78" fill="#D2963F"/><path d="M971.5,48.7 L982.5,30.4 L993.5,48.7 Z" fill="#000"/><path d="M971.5,48.7 L971.5,413.5 L993.5,413.5 L993.5,48.7" fill="none" stroke="#000" stroke-width="0.6"/><line x1="993.5" y1="414.10" x2="997.5" y2="414.10" stroke="#000" stroke-width="0.8"/><text x="1000.8" y="418.80" font-size="12.5" style="font-family:'DejaVu Sans Condensed','DejaVu Sans',sans-serif">0</text><line x1="993.5" y1="377.62" x2="997.5" y2="377.62" stroke="#000" stroke-width="0.8"/><text x="1000.8" y="382.32" font-size="12.5" style="font-family:'DejaVu Sans Condensed','DejaVu Sans',sans-serif">0.01</text><line x1="993.5" y1="341.14" x2="997.5" y2="341.14" stroke="#000" stroke-width="0.8"/><text x="1000.8" y="345.84" font-size="12.5" style="font-family:'DejaVu Sans Condensed','DejaVu Sans',sans-serif">0.5</text><line x1="993.5" y1="304.66" x2="997.5" y2="304.66" stroke="#000" stroke-width="0.8"/><text x="1000.8" y="309.36" font-size="12.5" style="font-family:'DejaVu Sans Condensed','DejaVu Sans',sans-serif">1</text><line x1="993.5" y1="268.18" x2="997.5" y2="268.18" stroke="#000" stroke-width="0.8"/><text x="1000.8" y="272.88" font-size="12.5" style="font-family:'DejaVu Sans Condensed','DejaVu Sans',sans-serif">2</text><line x1="993.5" y1="231.70" x2="997.5" y2="231.70" stroke="#000" stroke-width="0.8"/><text x="1000.8" y="236.40" font-size="12.5" style="font-family:'DejaVu Sans Condensed','DejaVu Sans',sans-serif">3</text><line x1="993.5" y1="195.22" x2="997.5" y2="195.22" stroke="#000" stroke-width="0.8"/><text x="1000.8" y="199.92" font-size="12.5" style="font-family:'DejaVu Sans Condensed','DejaVu Sans',sans-serif">4</text><line x1="993.5" y1="158.74" x2="997.5" y2="158.74" stroke="#000" stroke-width="0.8"/><text x="1000.8" y="163.44" font-size="12.5" style="font-family:'DejaVu Sans Condensed','DejaVu Sans',sans-serif">5</text><line x1="993.5" y1="122.26" x2="997.5" y2="122.26" stroke="#000" stroke-width="0.8"/><text x="1000.8" y="126.96" font-size="12.5" style="font-family:'DejaVu Sans Condensed','DejaVu Sans',sans-serif">10</text><line x1="993.5" y1="85.78" x2="997.5" y2="85.78" stroke="#000" stroke-width="0.8"/><text x="1000.8" y="90.48" font-size="12.5" style="font-family:'DejaVu Sans Condensed','DejaVu Sans',sans-serif">25</text><line x1="993.5" y1="49.30" x2="997.5" y2="49.30" stroke="#000" stroke-width="0.8"/><text x="1000.8" y="54.00" font-size="12.5" style="font-family:'DejaVu Sans Condensed','DejaVu Sans',sans-serif">50</text>
<text x="140" y="447" font-size="10" text-anchor="middle">Hourly fraction by occurence</text><text x="47.5" y="466" font-size="10">Est</text><text x="47.5" y="493" font-size="10">Obs</text><rect x="74.5" y="452.5" width="131" height="18" fill="#FFE8BE" stroke="#000" stroke-width="0.8"/><rect x="205.5" y="452.5" width="1.5" height="18" fill="#000"/><rect x="74.5" y="479.5" width="119" height="18" fill="#FFE8BE" stroke="#000" stroke-width="0.8"/><rect x="193.5" y="479.5" width="12" height="18" fill="#DCFFC8" stroke="#000" stroke-width="0.8"/><rect x="205.5" y="479.5" width="1.5" height="18" fill="#000"/><path d="M74.5,470.5 V479.5 M205.5,470.5 L193.5,479.5 M205.8,470.5 L205.5,479.5 M207,470.5 V479.5" stroke="#000" stroke-width="0.7" fill="none"/><text x="58" y="509" font-size="10">0%</text><text x="102" y="509" font-size="10">Areal fraction</text><text x="195" y="509" font-size="10">100%</text><text x="139.5" y="528" font-size="10" text-anchor="middle">Hourly fraction of total rain</text><text x="47.5" y="547" font-size="10">Est</text><text x="47.5" y="574" font-size="10">Obs</text><rect x="74.3" y="533.5" width="3.9" height="18" fill="#FFE8BE" stroke="#000" stroke-width="0.7"/><rect x="78.2" y="533.5" width="3.1" height="18" fill="#DCFFC8" stroke="#000" stroke-width="0.7"/><rect x="81.3" y="533.5" width="4.1" height="18" fill="#96FA96" stroke="#000" stroke-width="0.7"/><rect x="85.4" y="533.5" width="9.7" height="18" fill="#64FFFF" stroke="#000" stroke-width="0.7"/><rect x="95.1" y="533.5" width="2.4" height="18" fill="#00BEFF" stroke="#000" stroke-width="0.7"/><rect x="97.5" y="533.5" width="1.1" height="18" fill="#0064FF" stroke="#000" stroke-width="0.7"/><rect x="74.3" y="560.5" width="3.9" height="18" fill="#FFE8BE" stroke="#000" stroke-width="0.7"/><rect x="78.2" y="560.5" width="39.2" height="18" fill="#DCFFC8" stroke="#000" stroke-width="0.7"/><rect x="117.4" y="560.5" width="26.9" height="18" fill="#96FA96" stroke="#000" stroke-width="0.7"/><rect x="144.3" y="560.5" width="25.4" height="18" fill="#64FFFF" stroke="#000" stroke-width="0.7"/><rect x="169.7" y="560.5" width="5.4" height="18" fill="#00BEFF" stroke="#000" stroke-width="0.7"/><rect x="175.1" y="560.5" width="9.5" height="18" fill="#0064FF" stroke="#000" stroke-width="0.7"/><rect x="184.6" y="560.5" width="5.8" height="18" fill="#9664FF" stroke="#000" stroke-width="0.7"/><rect x="190.4" y="560.5" width="16.7" height="18" fill="#DC64FF" stroke="#000" stroke-width="0.7"/><path d="M74.3,551.5 L74.3,560.5 M78.2,551.5 L78.2,560.5 M81.3,551.5 L117.4,560.5 M85.4,551.5 L144.3,560.5 M95.1,551.5 L169.7,560.5 M97.5,551.5 L175.1,560.5 M98.6,551.5 L184.6,560.5 M98.6,551.5 L190.4,560.5 M98.6,551.5 L207.1,560.5" stroke="#000" stroke-width="0.7" fill="none"/><text x="140.5" y="590" font-size="10" text-anchor="middle">Rainfall accumulation by amount</text>
<text x="338.6" y="455" font-size="10" text-anchor="middle">GSMAP_NRT_1HR</text><text x="308.5" y="470" font-size="10" text-anchor="middle">&lt;0.01</text><text x="370" y="470" font-size="10" text-anchor="middle">≥0.01</text><rect x="277.5" y="478.5" width="124" height="95" fill="none" stroke="#000" stroke-width="1"/><line x1="339.5" y1="478.5" x2="339.5" y2="573.5" stroke="#000"/><line x1="277.5" y1="526.5" x2="401.5" y2="526.5" stroke="#000"/><text x="275" y="506" font-size="10" text-anchor="end">&lt;0.01</text><text x="275" y="553" font-size="10" text-anchor="end">≥0.01</text><text transform="translate(246,521) rotate(-90)" font-size="10" text-anchor="middle">ANALYSIS</text><text x="308.5" y="506" font-size="10" text-anchor="middle">3027</text><text x="370.5" y="506" font-size="10" text-anchor="middle">6</text><text x="308.5" y="553" font-size="10" text-anchor="middle">20</text><text x="370.5" y="553" font-size="10" text-anchor="middle">0</text>
<text x="460" y="453.5" font-size="10">Validation statistics for 20251002 00&#160; n=3053 Valid. grid=0.25° Units=mm/hr.</text><line x1="457.5" y1="457.5" x2="997" y2="457.5" stroke="#000" stroke-width="1" stroke-dasharray="3.4,1.6"/><text x="609" y="474.7" font-size="10">ANALYSIS</text><text x="670.6" y="474.7" font-size="10">GSMAP_NRT_1HR</text><line x1="457.5" y1="480.5" x2="758" y2="480.5" stroke="#000" stroke-width="1" stroke-dasharray="3.4,1.6"/><text x="460" y="499.2" font-size="10">Num of gridpoints raining</text><text x="650" y="499.2" font-size="10" text-anchor="end">20</text><text x="730" y="499.2" font-size="10" text-anchor="end">6</text><text x="460" y="518.9" font-size="10">Average rain</text><text x="650" y="518.9" font-size="10" text-anchor="end">0.0</text><text x="730" y="518.9" font-size="10" text-anchor="end">0.0</text><text x="460" y="538.6" font-size="10">Conditional rain</text><text x="650" y="538.6" font-size="10" text-anchor="end">4.8</text><text x="730" y="538.6" font-size="10" text-anchor="end">2.5</text><text x="460" y="558.3" font-size="10">Rain volume (mm km<tspan font-size='7' dy='-4'>2</tspan><tspan dy='4'>10</tspan><tspan font-size='7' dy='-4'>6</tspan><tspan dy='4'>)</tspan></text><text x="650" y="558.3" font-size="10" text-anchor="end">0.1</text><text x="730" y="558.3" font-size="10" text-anchor="end">0.0</text><text x="460" y="578.0" font-size="10">Maximum rain</text><text x="650" y="578.0" font-size="10" text-anchor="end">6.5</text><text x="730" y="578.0" font-size="10" text-anchor="end">2.1</text><text x="784" y="471.7" font-size="10" xml:space="preserve" style="white-space:pre">Mean abs error =    0.0</text><text x="784" y="488.7" font-size="10" xml:space="preserve" style="white-space:pre">RMS error =    0.3</text><text x="784" y="505.7" font-size="10" xml:space="preserve" style="white-space:pre">Correlation coeff =  0.056</text><text x="784" y="522.7" font-size="10" xml:space="preserve" style="white-space:pre">Frequency bias =  0.300</text><text x="784" y="539.7" font-size="10" xml:space="preserve" style="white-space:pre">Probability of detection =  0.000</text><text x="784" y="556.7" font-size="10" xml:space="preserve" style="white-space:pre">False alarm ratio =  1.000</text><text x="784" y="573.7" font-size="10" xml:space="preserve" style="white-space:pre">Hanssen &amp; Kuipers score = -0.002</text><text x="784" y="590.7" font-size="10" xml:space="preserve" style="white-space:pre">Equitable threat score = -0.002</text>
</svg></body></html>
